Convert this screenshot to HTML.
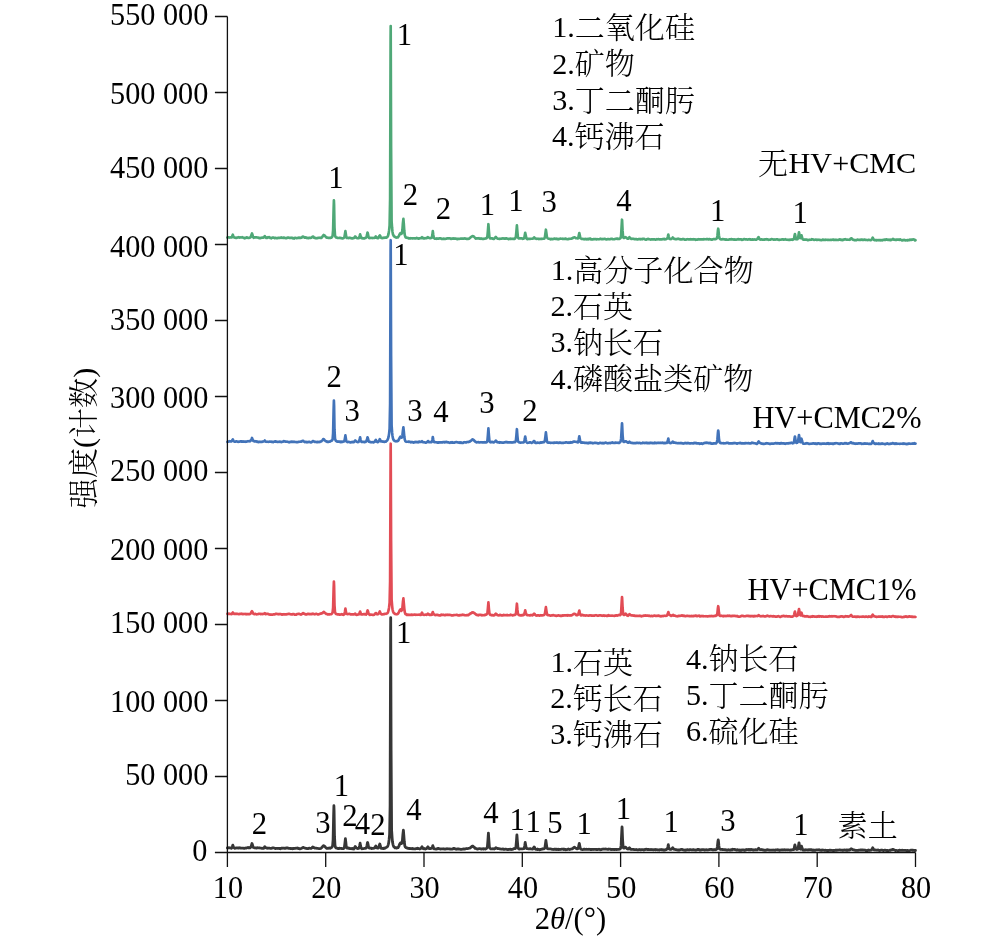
<!DOCTYPE html>
<html lang="zh"><head><meta charset="utf-8"><title>XRD</title>
<style>html,body{margin:0;padding:0;background:#fff}svg{display:block}text{font-family:'Liberation Serif','Noto Serif CJK SC',serif;font-size:30px;fill:#000}.cj{font-weight:300;font-size:30.1px}.la{font-size:30.15px}</style>
</head><body>
<svg width="992" height="938" viewBox="0 0 992 938">
<rect width="992" height="938" fill="#fff"/>
<polyline fill="none" stroke="#363636" stroke-width="2.8" stroke-linejoin="round" stroke-linecap="round" points="227.4,848.0 227.9,848.0 228.4,847.8 228.9,847.7 229.4,847.8 229.9,847.8 230.3,848.0 230.8,848.1 231.3,848.3 231.8,847.9 232.3,846.7 232.8,845.1 233.3,846.5 233.8,847.6 234.3,848.0 234.8,848.3 235.3,848.2 235.8,848.1 236.2,847.8 236.7,847.9 237.2,847.9 237.7,847.9 238.2,848.1 238.7,848.2 239.2,847.7 239.7,847.9 240.2,848.0 240.7,848.0 241.2,848.1 241.7,848.1 242.1,848.2 242.6,848.1 243.1,848.2 243.6,848.2 244.1,848.4 244.6,848.3 245.1,848.1 245.6,848.0 246.1,848.0 246.6,848.0 247.1,847.8 247.6,847.6 248.0,847.4 248.5,847.8 249.0,847.7 249.5,847.7 250.0,847.9 250.5,847.5 251.0,846.9 251.5,845.2 252.0,843.5 252.5,844.9 253.0,846.8 253.4,847.5 253.9,847.6 254.4,847.9 254.9,847.9 255.4,847.8 255.9,848.0 256.4,848.0 256.9,848.0 257.4,847.6 257.9,847.9 258.4,847.8 258.9,847.9 259.3,848.0 259.8,847.9 260.3,848.0 260.8,848.1 261.3,848.1 261.8,848.4 262.3,848.4 262.8,848.2 263.3,848.2 263.8,848.3 264.3,847.4 264.8,846.6 265.2,847.3 265.7,847.6 266.2,847.9 266.7,848.1 267.2,848.1 267.7,848.3 268.2,848.2 268.7,848.2 269.2,848.2 269.7,848.1 270.2,848.4 270.7,848.4 271.1,848.4 271.6,848.2 272.1,848.0 272.6,848.0 273.1,847.8 273.6,847.9 274.1,848.0 274.6,848.2 275.1,848.4 275.6,848.6 276.1,848.5 276.6,848.4 277.0,848.4 277.5,848.5 278.0,848.4 278.5,848.3 279.0,848.5 279.5,848.5 280.0,848.4 280.5,848.7 281.0,848.3 281.5,848.2 282.0,848.3 282.4,848.2 282.9,848.2 283.4,848.1 283.9,848.3 284.4,848.3 284.9,848.2 285.4,848.4 285.9,848.1 286.4,847.8 286.9,848.1 287.4,847.8 287.9,848.1 288.3,848.2 288.8,848.4 289.3,848.3 289.8,848.3 290.3,848.6 290.8,848.3 291.3,848.5 291.8,848.7 292.3,848.5 292.8,848.8 293.3,848.6 293.8,848.4 294.2,848.5 294.7,848.4 295.2,848.3 295.7,848.3 296.2,848.1 296.7,848.1 297.2,848.4 297.7,848.0 298.2,848.2 298.7,848.5 299.2,848.5 299.7,848.9 300.1,848.8 300.6,848.7 301.1,848.5 301.6,848.3 302.1,848.0 302.6,847.8 303.1,847.4 303.6,847.6 304.1,847.9 304.6,848.0 305.1,848.2 305.5,848.2 306.0,848.4 306.5,848.5 307.0,848.5 307.5,848.6 308.0,848.6 308.5,848.4 309.0,848.1 309.5,848.2 310.0,848.3 310.5,848.3 311.0,848.4 311.4,848.2 311.9,847.8 312.4,847.3 312.9,846.9 313.4,847.4 313.9,847.6 314.4,848.0 314.9,848.0 315.4,848.2 315.9,848.1 316.4,848.1 316.9,848.4 317.3,848.4 317.8,848.4 318.3,848.5 318.8,848.6 319.3,848.6 319.8,848.7 320.3,848.5 320.8,848.4 321.3,848.0 321.8,847.5 322.3,847.0 322.8,846.5 323.2,845.8 323.7,845.7 324.2,846.0 324.7,846.2 325.2,846.9 325.7,847.5 326.2,847.9 326.7,848.3 327.2,848.2 327.7,848.4 328.2,848.3 328.6,848.2 329.1,848.0 329.6,848.2 330.1,848.3 330.6,848.0 331.1,847.7 331.6,847.5 332.1,847.1 332.6,845.8 333.1,839.6 333.6,816.4 333.9,805.7 334.1,810.9 334.5,836.4 335.0,845.4 335.5,847.3 336.0,847.9 336.5,848.1 337.0,848.2 337.5,848.3 338.0,848.6 338.5,848.4 339.0,848.5 339.5,848.2 340.0,848.3 340.4,848.3 340.9,848.3 341.4,848.4 341.9,848.6 342.4,848.6 342.9,848.6 343.4,848.6 343.9,848.3 344.4,847.2 344.9,843.1 345.4,838.6 345.9,843.0 346.3,846.8 346.8,848.1 347.3,848.2 347.8,848.0 348.3,848.3 348.8,848.0 349.3,848.2 349.8,848.5 350.3,848.5 350.8,848.6 351.3,848.6 351.7,848.5 352.2,848.8 352.7,848.5 353.2,848.8 353.7,849.0 354.2,848.4 354.7,847.6 355.2,846.5 355.7,847.1 356.2,847.9 356.7,848.0 357.2,848.4 357.6,848.6 358.1,848.4 358.6,848.3 359.1,847.9 359.6,845.8 360.1,843.2 360.6,845.9 361.1,848.1 361.6,848.4 362.1,848.8 362.6,848.6 363.1,848.6 363.5,848.6 364.0,848.5 364.5,848.4 365.0,848.3 365.5,848.3 366.0,848.1 366.5,847.4 367.0,845.3 367.5,842.5 367.6,842.4 368.0,844.1 368.5,846.7 369.0,848.0 369.4,848.1 369.9,848.2 370.4,848.2 370.9,848.0 371.4,848.5 371.9,848.5 372.4,848.3 372.9,848.4 373.4,848.3 373.9,848.1 374.4,848.1 374.9,847.7 375.3,846.8 375.8,846.0 376.3,846.9 376.8,848.0 377.3,848.1 377.8,848.1 378.3,848.1 378.8,847.1 379.3,845.3 379.8,844.0 380.3,845.6 380.7,847.4 381.2,848.3 381.7,848.4 382.2,848.4 382.7,848.5 383.2,848.2 383.7,848.6 384.2,848.5 384.7,848.0 385.2,848.1 385.7,847.5 386.2,847.4 386.6,847.2 387.1,846.9 387.6,846.5 388.1,845.1 388.6,843.4 389.1,839.7 389.6,834.3 390.1,806.0 390.6,631.2 390.7,617.7 391.1,750.8 391.6,830.1 392.1,837.6 392.5,842.1 393.0,844.6 393.5,846.1 394.0,847.0 394.5,847.2 395.0,847.9 395.5,847.7 396.0,847.7 396.5,848.0 397.0,847.7 397.5,847.8 398.0,847.7 398.4,847.0 398.9,846.2 399.4,844.8 399.9,843.7 400.4,842.9 400.9,843.0 401.4,843.6 401.9,843.2 402.4,840.3 402.9,834.3 403.4,830.2 403.8,835.1 404.3,841.8 404.8,845.7 405.3,847.1 405.8,847.4 406.3,847.8 406.8,848.0 407.3,848.0 407.8,848.3 408.3,848.3 408.8,848.5 409.3,848.5 409.7,848.4 410.2,848.6 410.7,848.7 411.2,848.6 411.7,848.7 412.2,848.8 412.7,848.5 413.2,848.6 413.7,848.9 414.2,848.8 414.7,848.9 415.2,848.9 415.6,848.7 416.1,848.7 416.6,848.5 417.1,848.5 417.6,848.2 418.1,848.4 418.6,848.7 419.1,848.6 419.6,849.0 420.1,848.9 420.6,848.6 421.1,848.3 421.5,847.6 422.0,846.8 422.5,847.7 423.0,848.6 423.5,848.5 424.0,848.8 424.5,848.7 425.0,848.7 425.5,849.0 426.0,848.8 426.5,848.6 426.9,848.2 427.4,847.4 427.9,846.8 428.4,847.4 428.9,848.4 429.4,848.6 429.9,848.6 430.4,848.6 430.9,848.4 431.4,848.3 431.9,848.1 432.4,846.8 432.8,845.6 433.3,847.3 433.8,848.4 434.3,848.9 434.8,848.9 435.3,849.0 435.8,849.1 436.3,849.1 436.8,848.8 437.3,848.7 437.8,848.8 438.3,848.5 438.7,848.5 439.2,848.7 439.7,848.8 440.2,848.9 440.7,849.1 441.2,849.0 441.7,848.9 442.2,848.9 442.7,848.8 443.2,849.0 443.7,848.9 444.2,848.8 444.6,849.1 445.1,849.2 445.6,849.0 446.1,849.0 446.6,848.9 447.1,848.6 447.6,848.9 448.1,848.9 448.6,848.8 449.1,848.9 449.6,848.8 450.0,849.1 450.5,849.0 451.0,849.2 451.5,849.1 452.0,849.2 452.5,848.9 453.0,848.8 453.5,848.4 454.0,848.6 454.5,848.5 455.0,848.7 455.5,849.1 455.9,849.1 456.4,849.3 456.9,849.1 457.4,848.9 457.9,849.0 458.4,849.0 458.9,848.9 459.4,849.2 459.9,849.2 460.4,849.3 460.9,849.3 461.4,849.3 461.8,849.3 462.3,849.2 462.8,849.1 463.3,849.1 463.8,848.9 464.3,849.0 464.8,849.1 465.3,848.8 465.8,848.8 466.3,848.6 466.8,848.5 467.3,848.7 467.7,848.6 468.2,848.5 468.7,848.4 469.2,848.1 469.7,848.1 470.2,847.9 470.7,847.4 471.2,847.2 471.7,846.5 472.2,846.2 472.7,846.3 473.1,846.2 473.6,846.9 474.1,847.2 474.6,847.7 475.1,848.4 475.6,848.1 476.1,848.7 476.6,848.8 477.1,848.9 477.6,849.1 478.1,849.0 478.6,848.8 479.0,848.7 479.5,848.7 480.0,848.7 480.5,848.8 481.0,849.0 481.5,849.0 482.0,849.0 482.5,848.9 483.0,849.0 483.5,848.7 484.0,849.0 484.5,848.9 484.9,849.0 485.4,849.1 485.9,848.8 486.4,848.5 486.9,848.1 487.4,846.7 487.9,840.5 488.4,833.2 488.9,840.7 489.4,847.0 489.9,848.3 490.4,848.5 490.8,848.8 491.3,848.9 491.8,848.8 492.3,848.9 492.8,848.6 493.3,848.8 493.8,848.8 494.3,849.0 494.8,848.8 495.3,848.2 495.8,847.7 496.3,847.9 496.7,848.3 497.2,848.5 497.7,848.5 498.2,848.5 498.7,848.6 499.2,848.7 499.7,848.9 500.2,848.9 500.7,849.0 501.2,849.2 501.7,849.1 502.1,849.2 502.6,849.0 503.1,849.0 503.6,849.3 504.1,849.3 504.6,849.3 505.1,849.2 505.6,849.1 506.1,849.2 506.6,849.4 507.1,849.4 507.6,849.5 508.0,849.7 508.5,849.3 509.0,849.4 509.5,849.4 510.0,849.1 510.5,849.3 511.0,849.5 511.5,849.5 512.0,849.4 512.5,849.3 513.0,849.2 513.5,848.8 513.9,848.6 514.4,848.5 514.9,848.5 515.4,848.5 515.9,847.2 516.4,841.5 516.9,834.8 517.4,841.3 517.9,847.1 518.4,848.6 518.9,849.1 519.4,849.0 519.8,849.0 520.3,848.9 520.8,848.8 521.3,848.9 521.8,848.9 522.3,848.8 522.8,848.8 523.3,848.7 523.8,848.7 524.3,847.8 524.8,845.3 525.2,842.4 525.7,845.2 526.2,848.0 526.7,848.6 527.2,848.7 527.7,848.7 528.2,848.8 528.7,848.8 529.2,848.9 529.7,848.8 530.2,848.6 530.7,848.8 531.1,848.9 531.6,849.0 532.1,849.1 532.6,849.1 533.1,848.5 533.6,847.7 534.1,846.9 534.6,847.5 535.1,848.9 535.6,849.2 536.1,849.4 536.6,849.4 537.0,849.5 537.5,849.0 538.0,849.5 538.5,849.4 539.0,849.5 539.5,849.8 540.0,849.7 540.5,849.6 541.0,849.3 541.5,849.3 542.0,849.1 542.5,848.9 542.9,849.0 543.4,848.8 543.9,848.8 544.4,848.7 544.9,847.7 545.4,844.1 545.9,840.5 546.4,844.2 546.9,847.6 547.4,848.7 547.9,848.8 548.3,848.9 548.8,848.9 549.3,848.9 549.8,848.9 550.3,848.8 550.8,849.0 551.3,849.1 551.8,849.2 552.3,849.4 552.8,849.3 553.3,849.3 553.8,849.5 554.2,849.2 554.7,849.3 555.2,849.2 555.7,849.2 556.2,849.5 556.7,849.2 557.2,849.3 557.7,849.5 558.2,849.2 558.7,849.6 559.2,849.4 559.7,849.4 560.1,849.5 560.6,849.3 561.1,849.3 561.6,849.2 562.1,849.2 562.6,849.1 563.1,849.0 563.6,849.5 564.1,849.3 564.6,849.2 565.1,849.6 565.6,849.5 566.0,849.8 566.5,849.6 567.0,849.6 567.5,849.3 568.0,849.2 568.5,849.0 569.0,849.2 569.5,849.5 570.0,849.3 570.5,849.3 571.0,849.1 571.5,849.0 571.9,848.8 572.4,848.9 572.9,848.3 573.4,847.9 573.9,847.5 574.4,847.2 574.9,847.6 575.4,848.0 575.9,848.2 576.4,848.6 576.9,848.9 577.3,848.8 577.8,848.7 578.3,848.3 578.8,845.5 579.3,843.3 579.8,845.9 580.3,848.3 580.8,849.1 581.3,849.3 581.8,849.5 582.3,849.6 582.8,849.6 583.2,849.5 583.7,849.3 584.2,849.1 584.7,849.2 585.2,849.4 585.7,849.4 586.2,849.2 586.7,849.3 587.2,849.3 587.7,849.3 588.2,849.4 588.7,849.3 589.1,849.2 589.6,849.4 590.1,849.5 590.6,849.4 591.1,849.7 591.6,849.4 592.1,849.5 592.6,849.3 593.1,849.4 593.6,849.5 594.1,849.3 594.6,849.4 595.0,849.4 595.5,849.3 596.0,849.5 596.5,849.4 597.0,849.7 597.5,849.5 598.0,849.5 598.5,849.4 599.0,849.2 599.5,849.4 600.0,849.5 600.4,849.8 600.9,849.6 601.4,849.7 601.9,849.3 602.4,849.1 602.9,849.2 603.4,849.0 603.9,849.1 604.4,849.1 604.9,849.0 605.4,849.0 605.9,849.2 606.3,849.1 606.8,849.1 607.3,849.4 607.8,849.3 608.3,849.2 608.8,849.3 609.3,849.1 609.8,849.1 610.3,849.2 610.8,849.4 611.3,849.6 611.8,849.5 612.2,849.3 612.7,849.5 613.2,849.3 613.7,849.4 614.2,849.7 614.7,849.4 615.2,849.4 615.7,849.5 616.2,849.5 616.7,849.5 617.2,849.5 617.7,849.4 618.1,849.3 618.6,849.3 619.1,849.3 619.6,849.2 620.1,849.0 620.6,848.2 621.1,845.4 621.6,834.9 622.0,827.0 622.1,827.3 622.6,839.8 623.1,846.6 623.5,848.0 624.0,848.2 624.5,848.0 625.0,847.3 625.5,847.1 626.0,847.6 626.5,848.0 627.0,848.8 627.5,849.0 628.0,849.1 628.5,848.8 629.0,848.3 629.4,847.8 629.9,848.3 630.4,849.2 630.9,849.4 631.4,849.4 631.9,849.5 632.4,849.4 632.9,849.3 633.4,849.3 633.9,849.6 634.4,849.7 634.9,849.6 635.3,849.7 635.8,849.7 636.3,849.5 636.8,849.7 637.3,849.8 637.8,849.9 638.3,849.8 638.8,849.7 639.3,849.5 639.8,849.6 640.3,849.9 640.8,849.6 641.2,849.8 641.7,849.6 642.2,849.6 642.7,849.6 643.2,849.8 643.7,850.0 644.2,849.9 644.7,849.5 645.2,849.6 645.7,849.3 646.2,849.2 646.6,849.3 647.1,849.5 647.6,849.5 648.1,849.5 648.6,849.5 649.1,849.5 649.6,849.6 650.1,849.5 650.6,849.7 651.1,849.7 651.6,849.5 652.1,849.6 652.5,849.6 653.0,849.8 653.5,849.8 654.0,849.7 654.5,849.6 655.0,849.5 655.5,849.8 656.0,849.8 656.5,849.6 657.0,849.7 657.5,849.8 658.0,849.8 658.4,849.8 658.9,850.0 659.4,850.1 659.9,849.6 660.4,849.7 660.9,849.6 661.4,849.5 661.9,849.9 662.4,849.6 662.9,850.0 663.4,850.1 663.9,849.9 664.3,850.1 664.8,850.1 665.3,849.7 665.8,849.7 666.3,849.6 666.8,849.2 667.3,849.0 667.8,847.1 668.3,844.7 668.8,847.1 669.3,849.1 669.8,849.4 670.2,849.4 670.7,849.5 671.2,849.4 671.7,849.1 672.2,848.5 672.7,847.7 673.2,848.3 673.7,849.0 674.2,849.4 674.7,849.4 675.2,849.4 675.6,849.6 676.1,849.7 676.6,849.7 677.1,849.9 677.6,850.0 678.1,850.0 678.6,850.0 679.1,850.0 679.6,850.0 680.1,849.8 680.6,849.6 681.1,849.5 681.5,849.3 682.0,849.4 682.5,849.7 683.0,849.8 683.5,849.8 684.0,850.1 684.5,850.1 685.0,850.3 685.5,850.0 686.0,850.1 686.5,849.9 687.0,849.7 687.4,849.7 687.9,849.7 688.4,849.9 688.9,850.0 689.4,849.7 689.9,849.7 690.4,849.7 690.9,849.6 691.4,849.9 691.9,849.8 692.4,849.8 692.9,849.7 693.3,849.8 693.8,849.7 694.3,849.9 694.8,850.0 695.3,850.0 695.8,850.2 696.3,849.9 696.8,849.9 697.3,849.5 697.8,849.5 698.3,849.5 698.7,849.3 699.2,849.7 699.7,850.0 700.2,849.9 700.7,850.1 701.2,850.0 701.7,849.7 702.2,849.7 702.7,849.7 703.2,849.7 703.7,849.6 704.2,849.9 704.6,850.1 705.1,849.7 705.6,849.9 706.1,849.8 706.6,849.7 707.1,849.9 707.6,850.0 708.1,849.9 708.6,849.7 709.1,849.7 709.6,849.6 710.1,849.4 710.5,849.3 711.0,849.4 711.5,849.4 712.0,849.6 712.5,849.8 713.0,849.9 713.5,849.6 714.0,849.8 714.5,849.7 715.0,849.6 715.5,849.8 716.0,849.6 716.4,849.4 716.9,849.1 717.4,846.5 717.9,841.6 718.2,840.0 718.4,840.7 718.9,846.0 719.4,848.8 719.9,849.2 720.4,849.3 720.9,849.5 721.4,849.3 721.8,849.5 722.3,849.6 722.8,849.4 723.3,849.7 723.8,849.7 724.3,849.6 724.8,849.8 725.3,849.8 725.8,849.7 726.3,850.0 726.8,850.2 727.3,849.9 727.7,850.1 728.2,850.0 728.7,849.7 729.2,850.0 729.7,850.1 730.2,850.0 730.7,850.1 731.2,849.7 731.7,849.8 732.2,849.8 732.7,849.2 733.2,849.4 733.6,849.3 734.1,849.4 734.6,849.4 735.1,849.6 735.6,849.8 736.1,850.0 736.6,850.0 737.1,849.7 737.6,850.0 738.1,849.9 738.6,850.0 739.1,850.3 739.5,849.9 740.0,850.3 740.5,850.3 741.0,850.1 741.5,850.3 742.0,850.1 742.5,849.8 743.0,849.8 743.5,849.9 744.0,850.2 744.5,850.3 744.9,850.3 745.4,850.0 745.9,849.6 746.4,849.8 746.9,849.5 747.4,849.7 747.9,849.7 748.4,849.4 748.9,849.9 749.4,849.8 749.9,849.5 750.4,849.9 750.8,849.6 751.3,849.4 751.8,849.7 752.3,849.7 752.8,850.0 753.3,850.1 753.8,849.9 754.3,849.9 754.8,849.8 755.3,849.7 755.8,849.7 756.3,849.8 756.7,849.8 757.2,849.9 757.7,849.5 758.2,848.6 758.6,848.3 758.7,848.2 759.2,849.0 759.7,849.4 760.2,849.7 760.7,849.6 761.2,849.5 761.7,849.7 762.2,849.7 762.6,849.8 763.1,849.9 763.6,850.1 764.1,850.1 764.6,850.2 765.1,850.4 765.6,850.1 766.1,850.0 766.6,850.0 767.1,849.7 767.6,849.7 768.0,849.9 768.5,849.8 769.0,850.1 769.5,850.1 770.0,850.2 770.5,850.1 771.0,850.1 771.5,850.1 772.0,850.0 772.5,850.2 773.0,850.1 773.5,850.2 773.9,850.0 774.4,850.1 774.9,850.3 775.4,850.0 775.9,850.0 776.4,849.9 776.9,849.9 777.4,849.6 777.9,850.0 778.4,849.9 778.9,849.9 779.4,850.3 779.8,850.1 780.3,850.2 780.8,850.0 781.3,850.0 781.8,849.9 782.3,850.0 782.8,849.8 783.3,849.9 783.8,850.0 784.3,849.6 784.8,849.9 785.3,849.8 785.7,850.0 786.2,849.9 786.7,849.9 787.2,849.9 787.7,850.0 788.2,849.9 788.7,849.9 789.2,850.0 789.7,850.1 790.2,850.0 790.7,850.1 791.2,849.9 791.6,849.8 792.1,849.8 792.6,849.6 793.1,849.6 793.6,849.6 794.1,848.9 794.6,846.1 794.9,844.9 795.1,845.5 795.6,848.1 796.1,849.1 796.6,849.5 797.0,849.4 797.5,849.4 798.0,848.7 798.5,845.8 799.0,842.8 799.5,845.8 800.0,848.8 800.5,849.2 801.0,847.9 801.5,846.2 802.0,847.7 802.5,849.4 802.9,850.0 803.4,849.9 803.9,850.1 804.4,849.9 804.9,850.0 805.4,850.0 805.9,849.6 806.4,849.9 806.9,849.9 807.4,849.8 807.9,850.1 808.4,849.7 808.8,849.9 809.3,849.7 809.8,849.8 810.3,849.8 810.8,849.6 811.3,850.1 811.8,849.8 812.3,850.2 812.8,850.4 813.3,850.0 813.8,850.4 814.3,850.2 814.7,850.1 815.2,850.3 815.7,850.0 816.2,849.9 816.7,849.9 817.2,849.8 817.7,849.8 818.2,849.9 818.7,849.8 819.2,849.7 819.7,850.2 820.1,850.2 820.6,850.2 821.1,850.4 821.6,850.3 822.1,849.9 822.6,850.0 823.1,850.1 823.6,850.1 824.1,850.3 824.6,850.3 825.1,850.3 825.6,850.2 826.0,850.4 826.5,850.3 827.0,850.6 827.5,850.5 828.0,850.6 828.5,850.4 829.0,850.4 829.5,850.1 830.0,850.3 830.5,850.3 831.0,850.2 831.5,850.4 831.9,850.4 832.4,850.5 832.9,850.6 833.4,850.4 833.9,850.5 834.4,850.5 834.9,850.4 835.4,850.2 835.9,850.3 836.4,850.1 836.9,850.3 837.4,850.2 837.8,850.2 838.3,850.1 838.8,850.0 839.3,849.9 839.8,849.9 840.3,850.1 840.8,850.2 841.3,850.1 841.8,850.2 842.3,850.3 842.8,850.2 843.2,850.3 843.7,850.2 844.2,850.0 844.7,850.0 845.2,850.1 845.7,850.0 846.2,850.4 846.7,850.1 847.2,849.9 847.7,850.3 848.2,850.2 848.7,850.0 849.1,850.1 849.6,849.9 850.1,849.8 850.6,849.2 851.1,848.8 851.2,848.9 851.6,848.9 852.1,849.3 852.6,849.6 853.1,849.8 853.6,849.8 854.1,849.9 854.6,850.0 855.0,850.2 855.5,850.4 856.0,850.3 856.5,850.4 857.0,850.3 857.5,850.4 858.0,850.3 858.5,850.3 859.0,850.1 859.5,850.1 860.0,850.0 860.5,850.0 860.9,850.2 861.4,849.9 861.9,850.1 862.4,850.0 862.9,850.0 863.4,850.2 863.9,850.0 864.4,850.1 864.9,850.0 865.4,850.2 865.9,850.6 866.4,850.6 866.8,850.5 867.3,850.7 867.8,850.2 868.3,850.0 868.8,850.2 869.3,850.3 869.8,850.3 870.3,850.2 870.8,850.2 871.3,850.0 871.8,849.6 872.2,848.9 872.7,847.8 873.2,848.7 873.7,849.6 874.2,850.0 874.7,849.8 875.2,849.9 875.7,850.0 876.2,850.2 876.7,850.1 877.2,850.1 877.7,850.0 878.1,850.0 878.6,850.3 879.1,850.5 879.6,850.5 880.1,850.4 880.6,850.3 881.1,850.1 881.6,850.0 882.1,850.1 882.6,850.3 883.1,850.4 883.6,850.6 884.0,850.4 884.5,850.1 885.0,850.1 885.5,850.3 886.0,850.4 886.5,850.3 887.0,850.8 887.5,850.5 888.0,850.5 888.5,850.6 889.0,850.5 889.5,850.4 889.9,850.1 890.4,850.4 890.9,850.0 891.4,849.8 891.9,849.9 892.4,849.4 892.9,849.3 893.4,849.5 893.9,849.8 894.4,850.0 894.9,850.2 895.3,850.5 895.8,850.5 896.3,850.4 896.8,850.5 897.3,850.6 897.8,850.6 898.3,850.5 898.8,850.6 899.3,850.3 899.8,850.1 900.3,850.4 900.8,850.3 901.2,850.3 901.7,850.3 902.2,850.2 902.7,850.3 903.2,850.3 903.7,850.4 904.2,850.3 904.7,850.3 905.2,850.4 905.7,850.3 906.2,850.5 906.7,850.8 907.1,850.6 907.6,850.4 908.1,850.7 908.6,850.6 909.1,850.7 909.6,850.6 910.1,850.5 910.6,850.3 911.1,850.1 911.6,850.1 912.1,850.3 912.6,850.1 913.0,850.3 913.5,850.3 914.0,850.4 914.5,850.5 915.0,850.5 915.5,850.5"/>
<polyline fill="none" stroke="#e24c55" stroke-width="2.65" stroke-linejoin="round" stroke-linecap="round" points="227.4,613.8 227.9,613.8 228.4,614.0 228.9,613.6 229.4,613.7 229.9,613.9 230.3,614.0 230.8,614.0 231.3,614.1 231.8,614.0 232.3,613.1 232.8,612.5 233.3,613.0 233.8,613.7 234.3,614.0 234.8,613.9 235.3,613.8 235.8,614.0 236.2,613.9 236.7,614.0 237.2,613.8 237.7,614.0 238.2,614.0 238.7,614.1 239.2,614.1 239.7,614.0 240.2,613.7 240.7,613.7 241.2,614.0 241.7,613.7 242.1,613.8 242.6,614.1 243.1,613.9 243.6,614.1 244.1,614.0 244.6,614.0 245.1,613.9 245.6,614.2 246.1,614.3 246.6,614.1 247.1,614.2 247.6,614.0 248.0,614.0 248.5,614.1 249.0,614.2 249.5,614.1 250.0,614.0 250.5,613.8 251.0,613.1 251.5,611.8 252.0,611.2 252.5,611.9 253.0,613.1 253.4,613.8 253.9,613.8 254.4,614.1 254.9,613.8 255.4,613.9 255.9,614.2 256.4,614.3 256.9,614.3 257.4,614.2 257.9,614.2 258.4,613.9 258.9,613.9 259.3,613.8 259.8,613.7 260.3,613.7 260.8,614.1 261.3,613.9 261.8,614.1 262.3,614.1 262.8,614.0 263.3,613.8 263.8,614.0 264.3,613.6 264.8,613.2 265.2,613.6 265.7,614.2 266.2,613.8 266.7,613.9 267.2,613.9 267.7,613.8 268.2,614.0 268.7,614.2 269.2,614.5 269.7,614.5 270.2,614.7 270.7,614.6 271.1,614.6 271.6,614.5 272.1,614.6 272.6,614.6 273.1,614.5 273.6,614.4 274.1,614.3 274.6,614.4 275.1,614.2 275.6,613.9 276.1,613.8 276.6,613.8 277.0,613.9 277.5,614.0 278.0,614.2 278.5,614.3 279.0,614.1 279.5,614.1 280.0,614.2 280.5,614.0 281.0,614.2 281.5,614.3 282.0,614.7 282.4,614.3 282.9,614.5 283.4,614.3 283.9,614.2 284.4,614.4 284.9,614.4 285.4,614.4 285.9,614.3 286.4,614.4 286.9,614.3 287.4,614.0 287.9,614.1 288.3,613.9 288.8,613.9 289.3,613.9 289.8,614.0 290.3,614.2 290.8,614.2 291.3,614.5 291.8,614.4 292.3,614.2 292.8,614.3 293.3,614.1 293.8,614.1 294.2,614.2 294.7,614.6 295.2,614.6 295.7,614.6 296.2,614.7 296.7,614.3 297.2,614.1 297.7,614.0 298.2,613.9 298.7,613.9 299.2,613.9 299.7,614.0 300.1,614.4 300.6,614.3 301.1,614.6 301.6,614.1 302.1,614.0 302.6,613.5 303.1,613.1 303.6,613.5 304.1,613.6 304.6,614.0 305.1,614.2 305.5,614.1 306.0,614.6 306.5,614.4 307.0,614.1 307.5,614.2 308.0,613.9 308.5,613.9 309.0,614.2 309.5,614.1 310.0,614.1 310.5,614.1 311.0,614.2 311.4,614.1 311.9,614.2 312.4,613.9 312.9,613.6 313.4,613.9 313.9,614.1 314.4,614.3 314.9,614.2 315.4,614.1 315.9,613.9 316.4,613.8 316.9,614.0 317.3,614.0 317.8,614.4 318.3,614.4 318.8,614.2 319.3,614.1 319.8,613.9 320.3,613.6 320.8,613.7 321.3,613.5 321.8,613.3 322.3,613.2 322.8,612.7 323.2,612.4 323.7,611.9 324.2,612.0 324.7,612.6 325.2,613.1 325.7,613.5 326.2,613.9 326.7,613.9 327.2,614.2 327.7,614.5 328.2,614.3 328.6,614.4 329.1,614.2 329.6,614.3 330.1,614.3 330.6,614.2 331.1,614.2 331.6,614.0 332.1,613.4 332.6,612.5 333.1,607.7 333.6,589.4 333.9,581.5 334.1,585.5 334.5,605.3 335.0,612.2 335.5,613.3 336.0,613.9 336.5,614.1 337.0,614.3 337.5,614.3 338.0,614.4 338.5,614.3 339.0,614.5 339.5,614.7 340.0,614.6 340.4,614.6 340.9,614.4 341.4,614.2 341.9,614.4 342.4,614.3 342.9,614.7 343.4,614.8 343.9,614.5 344.4,614.1 344.9,611.8 345.4,608.6 345.9,611.4 346.3,613.6 346.8,613.9 347.3,614.1 347.8,614.1 348.3,614.0 348.8,614.0 349.3,613.8 349.8,614.0 350.3,614.2 350.8,614.4 351.3,614.4 351.7,614.3 352.2,614.3 352.7,614.3 353.2,614.4 353.7,614.5 354.2,614.3 354.7,614.0 355.2,613.7 355.7,614.3 356.2,614.8 356.7,614.9 357.2,614.8 357.6,614.7 358.1,614.4 358.6,614.5 359.1,614.2 359.6,613.1 360.1,611.5 360.6,613.0 361.1,614.4 361.6,614.3 362.1,614.3 362.6,614.4 363.1,614.4 363.5,614.2 364.0,614.0 364.5,614.1 365.0,614.5 365.5,614.4 366.0,614.6 366.5,614.0 367.0,612.4 367.5,610.6 367.6,610.4 368.0,611.3 368.5,613.3 369.0,614.3 369.4,614.5 369.9,614.9 370.4,614.8 370.9,614.5 371.4,614.7 371.9,614.7 372.4,614.8 372.9,615.0 373.4,614.9 373.9,614.7 374.4,614.6 374.9,614.1 375.3,613.4 375.8,613.1 376.3,613.3 376.8,614.0 377.3,614.3 377.8,614.2 378.3,613.7 378.8,613.6 379.3,612.4 379.8,611.5 380.3,612.7 380.7,613.7 381.2,614.0 381.7,614.3 382.2,614.3 382.7,614.3 383.2,614.2 383.7,614.3 384.2,614.1 384.7,614.0 385.2,613.7 385.7,613.7 386.2,613.8 386.6,613.5 387.1,613.4 387.6,613.1 388.1,611.9 388.6,610.2 389.1,607.2 389.6,602.7 390.1,581.0 390.6,453.6 390.7,443.7 391.1,540.8 391.6,599.4 392.1,605.6 392.5,609.2 393.0,611.4 393.5,612.6 394.0,613.2 394.5,613.5 395.0,613.9 395.5,614.0 396.0,614.2 396.5,614.3 397.0,614.2 397.5,614.0 398.0,613.7 398.4,613.1 398.9,612.1 399.4,611.0 399.9,610.1 400.4,609.4 400.9,610.1 401.4,610.8 401.9,610.1 402.4,607.8 402.9,602.0 403.4,598.4 403.8,602.8 404.3,608.6 404.8,612.2 405.3,613.9 405.8,614.1 406.3,614.5 406.8,614.9 407.3,614.5 407.8,614.8 408.3,614.9 408.8,614.7 409.3,614.9 409.7,614.8 410.2,614.8 410.7,614.9 411.2,614.6 411.7,614.8 412.2,615.0 412.7,614.9 413.2,614.7 413.7,614.7 414.2,614.6 414.7,614.5 415.2,614.5 415.6,614.8 416.1,614.8 416.6,614.7 417.1,614.8 417.6,614.7 418.1,614.7 418.6,614.7 419.1,614.6 419.6,614.8 420.1,614.9 420.6,615.0 421.1,614.8 421.5,613.7 422.0,612.7 422.5,613.7 423.0,614.5 423.5,614.8 424.0,614.9 424.5,614.7 425.0,614.7 425.5,614.7 426.0,614.5 426.5,614.8 426.9,614.6 427.4,614.3 427.9,613.7 428.4,613.9 428.9,614.5 429.4,614.8 429.9,614.7 430.4,615.0 430.9,615.0 431.4,614.7 431.9,614.7 432.4,613.3 432.8,612.0 433.3,613.4 433.8,614.3 434.3,614.5 434.8,614.9 435.3,614.8 435.8,615.1 436.3,614.9 436.8,614.8 437.3,614.9 437.8,614.8 438.3,615.2 438.7,615.3 439.2,615.4 439.7,615.4 440.2,615.2 440.7,615.3 441.2,614.7 441.7,614.9 442.2,614.9 442.7,614.8 443.2,615.0 443.7,614.9 444.2,615.1 444.6,615.0 445.1,615.2 445.6,615.0 446.1,614.8 446.6,614.8 447.1,614.7 447.6,614.9 448.1,614.8 448.6,615.0 449.1,615.0 449.6,614.8 450.0,615.0 450.5,615.0 451.0,615.0 451.5,615.4 452.0,615.4 452.5,615.5 453.0,615.4 453.5,615.3 454.0,615.0 454.5,615.0 455.0,615.0 455.5,615.0 455.9,615.0 456.4,614.9 456.9,614.9 457.4,615.0 457.9,615.2 458.4,615.5 458.9,615.4 459.4,615.2 459.9,615.3 460.4,615.1 460.9,615.0 461.4,615.1 461.8,614.9 462.3,614.9 462.8,614.7 463.3,614.8 463.8,614.8 464.3,615.1 464.8,615.2 465.3,615.2 465.8,615.3 466.3,615.2 466.8,615.3 467.3,615.1 467.7,615.2 468.2,615.2 468.7,614.7 469.2,614.5 469.7,614.1 470.2,613.5 470.7,613.3 471.2,613.4 471.7,612.8 472.2,612.4 472.7,612.7 473.1,612.4 473.6,612.7 474.1,613.1 474.6,613.3 475.1,613.8 475.6,614.2 476.1,614.5 476.6,615.0 477.1,614.9 477.6,615.2 478.1,615.3 478.6,615.0 479.0,614.9 479.5,614.9 480.0,615.0 480.5,614.9 481.0,614.9 481.5,615.3 482.0,615.1 482.5,615.3 483.0,615.2 483.5,615.2 484.0,615.1 484.5,614.9 484.9,615.1 485.4,614.8 485.9,614.6 486.4,614.6 486.9,614.0 487.4,613.3 487.9,608.2 488.4,602.4 488.9,608.6 489.4,613.2 489.9,614.5 490.4,614.9 490.8,614.8 491.3,615.1 491.8,615.3 492.3,615.1 492.8,615.3 493.3,615.3 493.8,615.4 494.3,615.3 494.8,614.7 495.3,614.2 495.8,613.7 496.3,613.9 496.7,614.4 497.2,615.1 497.7,615.2 498.2,615.3 498.7,615.4 499.2,615.2 499.7,615.0 500.2,614.8 500.7,615.1 501.2,615.2 501.7,615.5 502.1,615.5 502.6,615.4 503.1,615.2 503.6,614.9 504.1,615.2 504.6,615.2 505.1,615.1 505.6,615.2 506.1,615.2 506.6,615.1 507.1,615.3 507.6,615.1 508.0,615.2 508.5,615.2 509.0,615.3 509.5,615.2 510.0,615.2 510.5,614.7 511.0,615.0 511.5,615.0 512.0,615.1 512.5,615.4 513.0,615.2 513.5,615.2 513.9,615.0 514.4,614.9 514.9,614.9 515.4,614.6 515.9,614.0 516.4,609.4 516.9,603.7 517.4,609.4 517.9,613.7 518.4,614.6 518.9,615.0 519.4,615.2 519.8,615.0 520.3,615.4 520.8,615.5 521.3,615.2 521.8,615.4 522.3,615.2 522.8,614.9 523.3,615.1 523.8,614.8 524.3,614.2 524.8,612.4 525.2,610.3 525.7,612.4 526.2,614.2 526.7,614.8 527.2,615.1 527.7,615.1 528.2,615.2 528.7,615.2 529.2,615.3 529.7,615.3 530.2,615.3 530.7,615.0 531.1,615.1 531.6,615.0 532.1,615.0 532.6,615.4 533.1,614.9 533.6,614.2 534.1,613.7 534.6,613.9 535.1,614.9 535.6,615.2 536.1,615.4 536.6,615.6 537.0,615.3 537.5,615.3 538.0,615.3 538.5,615.4 539.0,615.5 539.5,615.6 540.0,615.3 540.5,615.4 541.0,615.2 541.5,615.3 542.0,615.3 542.5,615.4 542.9,615.2 543.4,615.2 543.9,615.0 544.4,614.6 544.9,613.7 545.4,610.5 545.9,607.1 546.4,610.6 546.9,613.6 547.4,615.0 547.9,615.1 548.3,615.1 548.8,615.2 549.3,615.2 549.8,615.4 550.3,615.6 550.8,615.6 551.3,615.5 551.8,615.4 552.3,615.2 552.8,615.3 553.3,615.2 553.8,615.1 554.2,615.5 554.7,615.5 555.2,615.6 555.7,615.8 556.2,615.9 556.7,615.7 557.2,615.5 557.7,615.7 558.2,615.4 558.7,615.4 559.2,615.6 559.7,615.5 560.1,615.7 560.6,616.0 561.1,615.7 561.6,615.9 562.1,615.5 562.6,615.4 563.1,615.6 563.6,615.3 564.1,615.3 564.6,615.3 565.1,615.4 565.6,615.2 566.0,615.2 566.5,615.4 567.0,615.2 567.5,615.6 568.0,615.1 568.5,615.4 569.0,615.5 569.5,615.4 570.0,615.6 570.5,615.4 571.0,615.3 571.5,615.4 571.9,615.1 572.4,614.7 572.9,614.7 573.4,614.1 573.9,613.7 574.4,613.7 574.9,614.0 575.4,614.0 575.9,614.7 576.4,615.1 576.9,615.2 577.3,615.1 577.8,615.0 578.3,614.4 578.8,612.3 579.3,610.6 579.8,612.9 580.3,614.4 580.8,615.4 581.3,615.4 581.8,615.1 582.3,615.2 582.8,614.9 583.2,615.3 583.7,615.5 584.2,615.5 584.7,615.4 585.2,615.6 585.7,615.5 586.2,615.4 586.7,615.5 587.2,615.5 587.7,615.5 588.2,615.6 588.7,615.5 589.1,615.6 589.6,615.4 590.1,615.3 590.6,615.5 591.1,615.5 591.6,615.7 592.1,615.5 592.6,615.6 593.1,615.6 593.6,615.5 594.1,615.6 594.6,615.6 595.0,615.4 595.5,615.3 596.0,615.2 596.5,615.3 597.0,615.5 597.5,615.7 598.0,615.8 598.5,615.7 599.0,615.4 599.5,615.4 600.0,615.2 600.4,615.2 600.9,615.5 601.4,615.5 601.9,615.7 602.4,615.8 602.9,615.6 603.4,615.4 603.9,615.7 604.4,615.8 604.9,615.5 605.4,615.7 605.9,615.7 606.3,615.9 606.8,615.7 607.3,615.8 607.8,615.8 608.3,615.1 608.8,615.5 609.3,615.6 609.8,615.5 610.3,615.7 610.8,615.7 611.3,615.7 611.8,615.6 612.2,615.6 612.7,615.7 613.2,615.8 613.7,615.7 614.2,615.7 614.7,615.9 615.2,615.4 615.7,615.6 616.2,615.3 616.7,615.3 617.2,615.6 617.7,615.5 618.1,615.1 618.6,615.1 619.1,614.9 619.6,615.1 620.1,615.1 620.6,614.7 621.1,612.5 621.6,603.5 622.0,597.0 622.1,597.6 622.6,607.7 623.1,613.9 623.5,614.7 624.0,614.9 624.5,614.9 625.0,613.9 625.5,613.7 626.0,614.0 626.5,614.7 627.0,615.3 627.5,615.6 628.0,615.8 628.5,615.4 629.0,614.5 629.4,614.2 629.9,614.5 630.4,614.9 630.9,615.2 631.4,615.4 631.9,615.3 632.4,615.4 632.9,615.6 633.4,615.6 633.9,615.4 634.4,615.8 634.9,615.9 635.3,616.0 635.8,615.9 636.3,615.9 636.8,615.9 637.3,615.9 637.8,616.0 638.3,616.0 638.8,615.9 639.3,615.7 639.8,615.8 640.3,615.9 640.8,615.9 641.2,616.3 641.7,616.0 642.2,616.1 642.7,615.9 643.2,615.9 643.7,615.6 644.2,615.5 644.7,615.6 645.2,615.3 645.7,615.7 646.2,615.6 646.6,615.6 647.1,615.7 647.6,615.6 648.1,615.6 648.6,615.7 649.1,616.0 649.6,615.9 650.1,616.0 650.6,616.1 651.1,615.9 651.6,615.9 652.1,616.2 652.5,616.1 653.0,615.9 653.5,615.9 654.0,615.8 654.5,615.6 655.0,615.8 655.5,615.9 656.0,615.9 656.5,616.0 657.0,615.9 657.5,615.7 658.0,615.7 658.4,615.5 658.9,615.8 659.4,615.8 659.9,616.1 660.4,616.1 660.9,616.4 661.4,616.1 661.9,616.1 662.4,616.1 662.9,615.9 663.4,616.1 663.9,615.9 664.3,615.8 664.8,615.7 665.3,615.8 665.8,615.9 666.3,615.8 666.8,615.7 667.3,615.1 667.8,613.8 668.3,612.0 668.8,613.5 669.3,614.7 669.8,615.0 670.2,615.2 670.7,615.5 671.2,615.9 671.7,615.8 672.2,615.4 672.7,615.1 673.2,614.9 673.7,615.6 674.2,615.7 674.7,615.6 675.2,615.7 675.6,615.9 676.1,616.1 676.6,616.2 677.1,616.2 677.6,616.3 678.1,616.0 678.6,615.9 679.1,615.8 679.6,615.8 680.1,615.9 680.6,615.8 681.1,615.7 681.5,615.5 682.0,615.4 682.5,615.5 683.0,615.8 683.5,615.7 684.0,616.0 684.5,615.9 685.0,616.2 685.5,616.0 686.0,616.1 686.5,615.9 687.0,615.9 687.4,615.9 687.9,615.9 688.4,616.0 688.9,616.0 689.4,616.2 689.9,616.1 690.4,616.1 690.9,616.1 691.4,615.9 691.9,616.2 692.4,616.0 692.9,616.2 693.3,615.9 693.8,616.1 694.3,615.7 694.8,615.7 695.3,615.8 695.8,615.6 696.3,615.8 696.8,616.1 697.3,616.1 697.8,615.8 698.3,615.8 698.7,615.7 699.2,615.6 699.7,616.3 700.2,616.3 700.7,616.0 701.2,616.2 701.7,616.1 702.2,616.0 702.7,616.2 703.2,616.1 703.7,616.3 704.2,616.2 704.6,616.2 705.1,616.3 705.6,616.2 706.1,616.3 706.6,616.2 707.1,616.3 707.6,616.5 708.1,616.2 708.6,616.2 709.1,616.1 709.6,616.0 710.1,616.1 710.5,616.2 711.0,616.1 711.5,615.9 712.0,616.1 712.5,616.2 713.0,616.1 713.5,616.2 714.0,616.1 714.5,615.9 715.0,615.9 715.5,616.0 716.0,615.7 716.4,615.4 716.9,615.2 717.4,613.1 717.9,608.1 718.2,606.2 718.4,607.1 718.9,612.3 719.4,615.3 719.9,615.8 720.4,615.8 720.9,615.8 721.4,615.7 721.8,615.9 722.3,616.0 722.8,616.1 723.3,616.3 723.8,615.9 724.3,615.9 724.8,616.1 725.3,616.1 725.8,615.9 726.3,616.1 726.8,615.9 727.3,615.7 727.7,615.9 728.2,615.7 728.7,615.8 729.2,615.7 729.7,615.9 730.2,615.9 730.7,616.2 731.2,616.0 731.7,616.2 732.2,616.0 732.7,615.8 733.2,616.0 733.6,615.8 734.1,615.9 734.6,615.8 735.1,615.9 735.6,616.1 736.1,616.1 736.6,616.1 737.1,616.3 737.6,616.1 738.1,616.5 738.6,616.7 739.1,616.7 739.5,616.7 740.0,616.5 740.5,616.4 741.0,616.3 741.5,615.9 742.0,615.8 742.5,615.8 743.0,615.9 743.5,616.1 744.0,616.3 744.5,616.2 744.9,616.2 745.4,616.2 745.9,616.0 746.4,616.0 746.9,615.8 747.4,615.9 747.9,616.0 748.4,615.9 748.9,616.2 749.4,616.1 749.9,616.0 750.4,616.3 750.8,616.2 751.3,616.0 751.8,616.2 752.3,616.1 752.8,616.0 753.3,616.3 753.8,616.3 754.3,616.1 754.8,616.3 755.3,616.1 755.8,616.0 756.3,616.0 756.7,616.0 757.2,616.1 757.7,616.0 758.2,615.6 758.6,615.1 758.7,615.1 759.2,615.7 759.7,615.9 760.2,616.2 760.7,616.3 761.2,616.3 761.7,616.2 762.2,616.0 762.6,616.1 763.1,615.9 763.6,616.2 764.1,616.3 764.6,616.5 765.1,616.4 765.6,616.4 766.1,616.3 766.6,616.1 767.1,615.7 767.6,615.9 768.0,615.9 768.5,616.2 769.0,616.3 769.5,616.4 770.0,616.1 770.5,616.2 771.0,616.1 771.5,616.2 772.0,616.3 772.5,616.3 773.0,616.3 773.5,616.1 773.9,616.5 774.4,616.4 774.9,616.4 775.4,616.7 775.9,616.5 776.4,616.5 776.9,616.6 777.4,616.2 777.9,616.2 778.4,616.1 778.9,616.4 779.4,616.7 779.8,616.7 780.3,617.0 780.8,616.7 781.3,616.4 781.8,616.2 782.3,616.0 782.8,616.1 783.3,615.8 783.8,616.0 784.3,616.1 784.8,616.0 785.3,616.4 785.7,616.2 786.2,616.1 786.7,616.3 787.2,616.4 787.7,616.4 788.2,616.4 788.7,616.4 789.2,616.3 789.7,616.4 790.2,616.5 790.7,616.6 791.2,616.6 791.6,616.7 792.1,616.7 792.6,616.5 793.1,616.3 793.6,615.9 794.1,615.1 794.6,612.6 794.9,611.5 795.1,612.2 795.6,614.8 796.1,616.0 796.6,616.1 797.0,615.9 797.5,615.8 798.0,614.7 798.5,611.5 799.0,609.0 799.5,611.8 800.0,614.6 800.5,615.4 801.0,614.2 801.5,612.7 802.0,614.3 802.5,616.0 802.9,615.9 803.4,615.9 803.9,616.2 804.4,616.0 804.9,616.5 805.4,616.4 805.9,616.4 806.4,616.4 806.9,616.1 807.4,616.5 807.9,616.4 808.4,616.7 808.8,616.8 809.3,616.7 809.8,616.8 810.3,617.0 810.8,616.6 811.3,616.6 811.8,616.7 812.3,616.2 812.8,616.6 813.3,616.3 813.8,616.4 814.3,616.5 814.7,616.6 815.2,616.7 815.7,616.6 816.2,616.7 816.7,616.8 817.2,616.4 817.7,616.7 818.2,616.5 818.7,616.1 819.2,616.6 819.7,616.2 820.1,616.3 820.6,616.4 821.1,616.4 821.6,616.7 822.1,616.4 822.6,616.5 823.1,616.6 823.6,616.6 824.1,616.7 824.6,616.7 825.1,616.7 825.6,616.5 826.0,616.7 826.5,616.5 827.0,616.7 827.5,616.7 828.0,616.6 828.5,616.3 829.0,616.5 829.5,616.1 830.0,616.4 830.5,616.3 831.0,616.4 831.5,616.4 831.9,616.2 832.4,616.5 832.9,616.3 833.4,616.2 833.9,616.3 834.4,616.2 834.9,616.3 835.4,616.5 835.9,616.4 836.4,616.5 836.9,616.7 837.4,616.9 837.8,616.8 838.3,616.8 838.8,616.9 839.3,616.7 839.8,616.8 840.3,616.7 840.8,616.4 841.3,616.4 841.8,616.4 842.3,616.4 842.8,616.7 843.2,616.9 843.7,616.7 844.2,616.8 844.7,616.6 845.2,616.5 845.7,616.2 846.2,616.4 846.7,616.3 847.2,616.5 847.7,616.3 848.2,616.6 848.7,616.5 849.1,616.4 849.6,616.3 850.1,616.1 850.6,615.4 851.1,615.0 851.2,615.3 851.6,615.5 852.1,616.2 852.6,616.6 853.1,616.7 853.6,616.7 854.1,616.6 854.6,616.6 855.0,616.6 855.5,616.8 856.0,617.0 856.5,616.7 857.0,617.0 857.5,616.6 858.0,616.5 858.5,616.7 859.0,616.7 859.5,616.9 860.0,616.8 860.5,616.7 860.9,616.7 861.4,616.7 861.9,616.8 862.4,616.6 862.9,616.6 863.4,616.5 863.9,616.7 864.4,616.8 864.9,616.9 865.4,616.6 865.9,616.6 866.4,616.5 866.8,616.6 867.3,616.7 867.8,617.0 868.3,617.0 868.8,616.4 869.3,616.6 869.8,616.5 870.3,616.8 870.8,617.0 871.3,617.0 871.8,616.6 872.2,615.5 872.7,614.6 873.2,615.3 873.7,616.2 874.2,616.3 874.7,616.4 875.2,616.6 875.7,616.6 876.2,616.8 876.7,616.8 877.2,616.8 877.7,616.7 878.1,616.7 878.6,616.5 879.1,616.5 879.6,616.6 880.1,616.6 880.6,616.7 881.1,616.6 881.6,616.6 882.1,616.4 882.6,616.8 883.1,616.8 883.6,617.0 884.0,616.9 884.5,616.9 885.0,616.8 885.5,616.5 886.0,616.6 886.5,616.8 887.0,616.8 887.5,616.9 888.0,616.6 888.5,616.5 889.0,616.4 889.5,616.4 889.9,616.7 890.4,616.6 890.9,616.7 891.4,616.8 891.9,616.4 892.4,616.1 892.9,616.1 893.4,616.0 893.9,616.4 894.4,616.7 894.9,616.5 895.3,616.8 895.8,616.5 896.3,616.6 896.8,616.9 897.3,616.9 897.8,616.6 898.3,616.8 898.8,616.7 899.3,616.7 899.8,616.7 900.3,616.8 900.8,616.9 901.2,616.9 901.7,617.2 902.2,617.2 902.7,617.2 903.2,617.0 903.7,616.9 904.2,617.0 904.7,616.8 905.2,616.6 905.7,616.7 906.2,616.4 906.7,616.6 907.1,616.9 907.6,616.8 908.1,616.8 908.6,616.6 909.1,616.7 909.6,616.4 910.1,616.5 910.6,616.6 911.1,616.5 911.6,616.7 912.1,616.9 912.6,616.7 913.0,616.8 913.5,616.8 914.0,616.9 914.5,617.0 915.0,616.9 915.5,617.0"/>
<polyline fill="none" stroke="#4273b9" stroke-width="2.65" stroke-linejoin="round" stroke-linecap="round" points="227.4,441.9 227.9,441.8 228.4,441.6 228.9,441.5 229.4,441.2 229.9,441.3 230.3,441.4 230.8,441.4 231.3,441.5 231.8,441.2 232.3,440.2 232.8,439.4 233.3,440.5 233.8,441.1 234.3,441.6 234.8,441.7 235.3,441.7 235.8,441.5 236.2,441.3 236.7,441.3 237.2,441.6 237.7,441.8 238.2,441.9 238.7,441.8 239.2,441.6 239.7,441.6 240.2,441.4 240.7,441.4 241.2,441.7 241.7,441.6 242.1,441.4 242.6,441.6 243.1,441.3 243.6,441.6 244.1,441.5 244.6,441.7 245.1,441.8 245.6,441.6 246.1,441.6 246.6,441.6 247.1,441.3 247.6,441.3 248.0,441.2 248.5,441.3 249.0,441.2 249.5,441.0 250.0,441.3 250.5,440.8 251.0,440.3 251.5,439.3 252.0,437.9 252.5,439.2 253.0,440.7 253.4,441.0 253.9,441.1 254.4,441.4 254.9,441.1 255.4,441.4 255.9,441.5 256.4,441.4 256.9,441.8 257.4,441.6 257.9,441.5 258.4,442.1 258.9,442.0 259.3,441.9 259.8,442.0 260.3,441.8 260.8,441.9 261.3,441.8 261.8,441.8 262.3,441.8 262.8,441.6 263.3,441.5 263.8,441.4 264.3,441.1 264.8,440.5 265.2,441.1 265.7,441.7 266.2,441.8 266.7,441.7 267.2,441.8 267.7,441.7 268.2,441.8 268.7,441.8 269.2,441.7 269.7,441.6 270.2,441.7 270.7,441.7 271.1,441.6 271.6,441.9 272.1,442.0 272.6,441.9 273.1,442.2 273.6,441.8 274.1,441.7 274.6,441.6 275.1,441.3 275.6,441.4 276.1,441.8 276.6,441.7 277.0,441.8 277.5,441.8 278.0,441.9 278.5,441.7 279.0,441.7 279.5,441.8 280.0,441.6 280.5,442.0 281.0,441.8 281.5,442.1 282.0,441.9 282.4,441.7 282.9,441.7 283.4,441.2 283.9,441.1 284.4,441.4 284.9,441.3 285.4,441.6 285.9,441.7 286.4,441.7 286.9,441.6 287.4,441.7 287.9,441.7 288.3,442.1 288.8,442.1 289.3,442.3 289.8,442.2 290.3,441.9 290.8,442.0 291.3,441.6 291.8,441.7 292.3,442.0 292.8,441.7 293.3,441.9 293.8,441.9 294.2,442.0 294.7,441.9 295.2,442.0 295.7,442.0 296.2,442.1 296.7,442.0 297.2,442.0 297.7,442.1 298.2,442.0 298.7,441.8 299.2,441.8 299.7,441.7 300.1,441.7 300.6,441.5 301.1,441.7 301.6,441.5 302.1,441.1 302.6,440.9 303.1,440.8 303.6,441.3 304.1,441.6 304.6,442.1 305.1,441.9 305.5,441.9 306.0,442.2 306.5,442.1 307.0,442.3 307.5,442.1 308.0,442.1 308.5,442.0 309.0,441.8 309.5,441.9 310.0,442.2 310.5,442.2 311.0,442.4 311.4,442.3 311.9,441.8 312.4,441.5 312.9,441.0 313.4,441.2 313.9,441.4 314.4,441.7 314.9,441.9 315.4,441.9 315.9,441.9 316.4,442.0 316.9,442.2 317.3,442.0 317.8,441.8 318.3,442.1 318.8,441.9 319.3,441.9 319.8,442.1 320.3,441.6 320.8,441.5 321.3,441.4 321.8,440.7 322.3,440.5 322.8,439.9 323.2,439.1 323.7,439.1 324.2,439.8 324.7,440.3 325.2,440.7 325.7,441.1 326.2,441.2 326.7,441.5 327.2,441.8 327.7,441.7 328.2,441.9 328.6,441.9 329.1,441.8 329.6,441.5 330.1,441.6 330.6,441.1 331.1,440.9 331.6,440.8 332.1,440.3 332.6,439.5 333.1,433.1 333.6,410.6 333.9,400.5 334.1,405.6 334.5,429.9 335.0,438.7 335.5,440.2 336.0,440.9 336.5,441.1 337.0,441.7 337.5,441.7 338.0,441.6 338.5,441.7 339.0,441.5 339.5,441.8 340.0,442.0 340.4,441.7 340.9,442.2 341.4,441.7 341.9,441.6 342.4,441.9 342.9,441.7 343.4,441.5 343.9,441.5 344.4,441.1 344.9,438.4 345.4,435.4 345.9,438.6 346.3,441.1 346.8,441.7 347.3,442.0 347.8,442.1 348.3,441.9 348.8,441.9 349.3,442.1 349.8,442.1 350.3,442.4 350.8,442.4 351.3,442.1 351.7,442.2 352.2,442.2 352.7,441.9 353.2,442.2 353.7,442.1 354.2,441.7 354.7,441.1 355.2,440.5 355.7,440.9 356.2,441.4 356.7,441.8 357.2,441.9 357.6,442.1 358.1,442.1 358.6,441.9 359.1,441.4 359.6,439.7 360.1,437.3 360.6,439.8 361.1,441.5 361.6,441.9 362.1,442.0 362.6,441.9 363.1,442.0 363.5,441.9 364.0,442.1 364.5,442.1 365.0,441.7 365.5,442.0 366.0,441.5 366.5,441.1 367.0,439.5 367.5,437.3 367.6,437.4 368.0,438.6 368.5,440.9 369.0,441.7 369.4,441.7 369.9,441.9 370.4,442.2 370.9,442.1 371.4,442.2 371.9,442.3 372.4,442.2 372.9,442.1 373.4,442.4 373.9,442.1 374.4,442.0 374.9,441.6 375.3,440.6 375.8,439.9 376.3,441.0 376.8,441.6 377.3,442.0 377.8,442.2 378.3,441.9 378.8,441.1 379.3,440.3 379.8,439.1 380.3,440.1 380.7,441.3 381.2,441.5 381.7,441.5 382.2,441.4 382.7,441.7 383.2,441.5 383.7,441.8 384.2,441.9 384.7,441.7 385.2,441.5 385.7,441.7 386.2,441.2 386.6,440.9 387.1,440.5 387.6,439.8 388.1,438.6 388.6,436.7 389.1,433.6 389.6,428.6 390.1,403.5 390.6,251.7 390.7,240.2 391.1,355.8 391.6,425.2 392.1,432.4 392.5,435.9 393.0,438.4 393.5,439.7 394.0,440.4 394.5,440.8 395.0,441.1 395.5,441.3 396.0,441.2 396.5,441.3 397.0,441.1 397.5,441.2 398.0,440.9 398.4,440.4 398.9,439.5 399.4,438.4 399.9,437.5 400.4,436.7 400.9,437.1 401.4,437.7 401.9,437.5 402.4,435.5 402.9,430.7 403.4,427.3 403.8,431.2 404.3,436.5 404.8,439.7 405.3,441.2 405.8,441.5 406.3,441.7 406.8,441.8 407.3,441.7 407.8,441.7 408.3,441.8 408.8,441.5 409.3,441.7 409.7,441.8 410.2,442.1 410.7,442.3 411.2,442.0 411.7,442.2 412.2,442.1 412.7,442.3 413.2,442.3 413.7,442.6 414.2,442.3 414.7,442.0 415.2,442.1 415.6,441.9 416.1,442.2 416.6,442.1 417.1,442.2 417.6,442.3 418.1,441.9 418.6,442.3 419.1,441.8 419.6,441.6 420.1,441.9 420.6,441.9 421.1,442.0 421.5,441.7 422.0,441.2 422.5,441.8 423.0,442.2 423.5,442.3 424.0,442.2 424.5,442.3 425.0,442.5 425.5,442.6 426.0,442.6 426.5,442.5 426.9,442.1 427.4,441.6 427.9,441.0 428.4,441.3 428.9,442.1 429.4,442.2 429.9,442.1 430.4,442.2 430.9,442.1 431.4,442.1 431.9,441.7 432.4,439.7 432.8,437.0 433.3,439.8 433.8,441.8 434.3,442.1 434.8,442.0 435.3,442.2 435.8,442.2 436.3,442.2 436.8,442.3 437.3,442.6 437.8,442.4 438.3,442.7 438.7,442.7 439.2,442.4 439.7,442.3 440.2,442.3 440.7,442.4 441.2,442.5 441.7,442.4 442.2,442.5 442.7,442.2 443.2,442.0 443.7,442.1 444.2,442.3 444.6,442.1 445.1,442.3 445.6,442.2 446.1,441.9 446.6,442.2 447.1,442.1 447.6,442.2 448.1,442.4 448.6,442.4 449.1,442.6 449.6,442.7 450.0,442.9 450.5,442.4 451.0,442.4 451.5,442.6 452.0,442.2 452.5,442.5 453.0,442.7 453.5,442.5 454.0,442.7 454.5,442.7 455.0,442.4 455.5,442.3 455.9,442.0 456.4,442.0 456.9,442.2 457.4,442.2 457.9,442.4 458.4,442.5 458.9,442.6 459.4,442.4 459.9,442.9 460.4,442.5 460.9,442.4 461.4,442.8 461.8,442.9 462.3,442.9 462.8,442.9 463.3,442.7 463.8,442.3 464.3,442.2 464.8,442.3 465.3,442.3 465.8,442.3 466.3,442.5 466.8,442.0 467.3,442.0 467.7,442.0 468.2,441.9 468.7,442.1 469.2,441.6 469.7,441.7 470.2,441.3 470.7,440.8 471.2,440.7 471.7,440.0 472.2,439.5 472.7,439.4 473.1,439.6 473.6,440.0 474.1,440.5 474.6,441.0 475.1,441.5 475.6,441.9 476.1,442.0 476.6,442.3 477.1,442.3 477.6,442.2 478.1,442.1 478.6,442.3 479.0,442.4 479.5,442.5 480.0,442.4 480.5,442.3 481.0,442.2 481.5,442.3 482.0,442.4 482.5,442.3 483.0,442.4 483.5,442.3 484.0,442.3 484.5,442.4 484.9,442.2 485.4,442.4 485.9,442.5 486.4,442.2 486.9,442.1 487.4,440.8 487.9,435.1 488.4,428.3 488.9,435.1 489.4,440.7 489.9,441.9 490.4,442.3 490.8,442.2 491.3,441.9 491.8,442.1 492.3,441.8 492.8,442.1 493.3,442.2 493.8,442.4 494.3,442.1 494.8,441.6 495.3,441.3 495.8,440.7 496.3,441.0 496.7,441.7 497.2,442.1 497.7,442.1 498.2,442.5 498.7,442.4 499.2,442.1 499.7,442.7 500.2,442.3 500.7,442.4 501.2,442.4 501.7,442.6 502.1,442.6 502.6,442.6 503.1,442.5 503.6,442.7 504.1,442.4 504.6,442.5 505.1,442.3 505.6,442.1 506.1,441.9 506.6,442.1 507.1,442.4 507.6,442.2 508.0,442.5 508.5,442.4 509.0,442.4 509.5,442.5 510.0,442.4 510.5,442.5 511.0,442.4 511.5,442.4 512.0,442.6 512.5,442.4 513.0,442.5 513.5,442.1 513.9,442.1 514.4,442.1 514.9,442.1 515.4,441.7 515.9,440.5 516.4,435.5 516.9,429.2 517.4,435.8 517.9,440.7 518.4,441.9 518.9,442.2 519.4,442.5 519.8,442.5 520.3,442.6 520.8,442.6 521.3,442.5 521.8,442.5 522.3,442.5 522.8,442.5 523.3,442.4 523.8,442.2 524.3,441.5 524.8,439.1 525.2,436.5 525.7,439.3 526.2,441.6 526.7,442.4 527.2,442.9 527.7,442.8 528.2,442.7 528.7,442.7 529.2,442.5 529.7,442.3 530.2,442.4 530.7,442.4 531.1,442.6 531.6,442.9 532.1,442.5 532.6,442.4 533.1,442.0 533.6,441.3 534.1,441.0 534.6,441.5 535.1,442.6 535.6,443.0 536.1,442.8 536.6,443.0 537.0,442.8 537.5,442.5 538.0,442.7 538.5,442.7 539.0,442.7 539.5,442.9 540.0,442.7 540.5,442.3 541.0,442.7 541.5,442.5 542.0,442.3 542.5,442.5 542.9,442.3 543.4,442.1 543.9,442.1 544.4,441.7 544.9,440.5 545.4,436.6 545.9,432.4 546.4,436.7 546.9,441.0 547.4,442.4 547.9,442.6 548.3,442.7 548.8,442.5 549.3,442.5 549.8,442.6 550.3,442.7 550.8,442.9 551.3,442.8 551.8,442.7 552.3,442.7 552.8,442.8 553.3,442.7 553.8,443.0 554.2,442.6 554.7,442.6 555.2,442.7 555.7,442.7 556.2,442.5 556.7,442.7 557.2,442.6 557.7,442.6 558.2,443.0 558.7,442.7 559.2,442.6 559.7,442.8 560.1,442.5 560.6,442.8 561.1,442.9 561.6,442.8 562.1,442.8 562.6,442.8 563.1,443.0 563.6,442.9 564.1,442.8 564.6,442.7 565.1,442.6 565.6,442.3 566.0,442.4 566.5,442.4 567.0,442.5 567.5,442.6 568.0,442.7 568.5,442.6 569.0,442.8 569.5,442.6 570.0,442.7 570.5,442.2 571.0,442.7 571.5,442.4 571.9,442.3 572.4,442.3 572.9,442.0 573.4,441.7 573.9,441.5 574.4,441.5 574.9,441.7 575.4,441.7 575.9,441.8 576.4,442.0 576.9,442.0 577.3,442.3 577.8,442.4 578.3,441.7 578.8,439.2 579.3,436.3 579.8,439.1 580.3,441.7 580.8,442.2 581.3,442.7 581.8,442.5 582.3,442.3 582.8,442.6 583.2,442.6 583.7,442.6 584.2,442.6 584.7,442.9 585.2,442.8 585.7,442.9 586.2,442.8 586.7,442.9 587.2,443.2 587.7,443.1 588.2,443.3 588.7,443.2 589.1,442.6 589.6,442.9 590.1,442.8 590.6,442.5 591.1,442.9 591.6,442.9 592.1,442.9 592.6,443.3 593.1,443.2 593.6,443.1 594.1,442.9 594.6,442.9 595.0,442.8 595.5,442.9 596.0,442.9 596.5,443.0 597.0,443.0 597.5,443.3 598.0,443.5 598.5,443.4 599.0,443.2 599.5,443.0 600.0,442.8 600.4,442.8 600.9,443.0 601.4,443.1 601.9,443.0 602.4,443.1 602.9,443.3 603.4,443.1 603.9,443.3 604.4,443.2 604.9,442.9 605.4,442.8 605.9,442.6 606.3,442.8 606.8,443.0 607.3,443.2 607.8,443.3 608.3,443.2 608.8,443.0 609.3,443.1 609.8,442.9 610.3,443.1 610.8,442.7 611.3,442.7 611.8,442.8 612.2,442.3 612.7,442.7 613.2,442.8 613.7,442.9 614.2,442.8 614.7,442.8 615.2,442.8 615.7,442.5 616.2,442.7 616.7,442.8 617.2,442.7 617.7,442.8 618.1,442.8 618.6,443.0 619.1,443.0 619.6,442.5 620.1,442.2 620.6,441.5 621.1,438.7 621.6,430.0 622.0,423.3 622.1,423.9 622.6,435.0 623.1,440.6 623.5,441.7 624.0,441.9 624.5,441.9 625.0,441.4 625.5,441.2 626.0,441.2 626.5,441.7 627.0,442.1 627.5,442.3 628.0,442.7 628.5,442.6 629.0,442.1 629.4,441.7 629.9,442.3 630.4,442.6 630.9,442.8 631.4,442.8 631.9,442.8 632.4,443.0 632.9,443.1 633.4,443.1 633.9,443.1 634.4,443.1 634.9,443.0 635.3,443.1 635.8,443.2 636.3,442.8 636.8,442.9 637.3,442.9 637.8,442.9 638.3,443.1 638.8,442.9 639.3,442.9 639.8,443.0 640.3,443.1 640.8,443.3 641.2,443.2 641.7,443.2 642.2,443.1 642.7,442.6 643.2,442.9 643.7,442.8 644.2,442.9 644.7,443.1 645.2,442.8 645.7,442.9 646.2,442.8 646.6,442.7 647.1,443.1 647.6,442.9 648.1,443.2 648.6,443.1 649.1,443.2 649.6,443.2 650.1,442.7 650.6,442.9 651.1,442.8 651.6,442.8 652.1,443.1 652.5,443.2 653.0,443.0 653.5,443.2 654.0,443.2 654.5,442.6 655.0,443.1 655.5,443.0 656.0,442.8 656.5,443.1 657.0,442.9 657.5,442.9 658.0,442.9 658.4,442.9 658.9,442.9 659.4,442.7 659.9,442.7 660.4,442.9 660.9,443.0 661.4,442.8 661.9,443.0 662.4,443.0 662.9,442.6 663.4,443.1 663.9,443.1 664.3,442.9 664.8,443.2 665.3,443.2 665.8,442.9 666.3,443.0 666.8,442.9 667.3,442.5 667.8,441.0 668.3,438.6 668.8,440.8 669.3,442.6 669.8,443.0 670.2,442.9 670.7,443.2 671.2,442.9 671.7,442.6 672.2,442.2 672.7,441.6 673.2,441.9 673.7,442.7 674.2,442.7 674.7,442.6 675.2,442.8 675.6,442.9 676.1,442.9 676.6,443.0 677.1,443.1 677.6,443.2 678.1,443.2 678.6,443.1 679.1,443.2 679.6,443.2 680.1,443.0 680.6,443.1 681.1,443.2 681.5,443.0 682.0,443.2 682.5,443.5 683.0,443.4 683.5,443.6 684.0,443.4 684.5,443.1 685.0,443.0 685.5,443.2 686.0,443.0 686.5,443.3 687.0,443.2 687.4,443.1 687.9,443.3 688.4,443.1 688.9,443.3 689.4,443.4 689.9,443.4 690.4,443.4 690.9,443.4 691.4,443.3 691.9,443.2 692.4,443.3 692.9,443.3 693.3,443.1 693.8,443.3 694.3,443.2 694.8,442.8 695.3,443.1 695.8,442.9 696.3,443.0 696.8,443.4 697.3,443.4 697.8,443.3 698.3,443.5 698.7,443.3 699.2,443.5 699.7,443.8 700.2,443.6 700.7,443.6 701.2,443.7 701.7,443.4 702.2,443.9 702.7,443.7 703.2,443.5 703.7,443.3 704.2,443.1 704.6,443.0 705.1,442.8 705.6,442.9 706.1,443.0 706.6,442.7 707.1,442.9 707.6,442.9 708.1,442.8 708.6,443.1 709.1,443.1 709.6,442.9 710.1,443.3 710.5,443.1 711.0,443.3 711.5,443.7 712.0,443.5 712.5,443.7 713.0,443.7 713.5,443.4 714.0,443.3 714.5,443.5 715.0,443.3 715.5,443.3 716.0,443.4 716.4,442.8 716.9,442.3 717.4,439.4 717.9,432.9 718.2,430.5 718.4,431.3 718.9,438.1 719.4,441.6 719.9,442.5 720.4,443.0 720.9,443.1 721.4,443.0 721.8,443.1 722.3,443.2 722.8,443.2 723.3,443.1 723.8,443.4 724.3,443.2 724.8,443.2 725.3,443.3 725.8,443.2 726.3,443.0 726.8,442.8 727.3,443.0 727.7,442.8 728.2,443.0 728.7,443.3 729.2,443.3 729.7,443.4 730.2,443.5 730.7,443.2 731.2,443.2 731.7,443.4 732.2,443.2 732.7,443.3 733.2,443.4 733.6,443.0 734.1,443.2 734.6,443.0 735.1,443.0 735.6,443.2 736.1,443.3 736.6,443.5 737.1,443.7 737.6,443.3 738.1,443.2 738.6,443.2 739.1,443.1 739.5,443.1 740.0,443.2 740.5,442.9 741.0,443.2 741.5,443.5 742.0,443.4 742.5,443.4 743.0,443.2 743.5,443.3 744.0,443.4 744.5,443.2 744.9,443.5 745.4,443.3 745.9,443.0 746.4,443.2 746.9,443.2 747.4,443.2 747.9,443.3 748.4,443.0 748.9,443.2 749.4,443.2 749.9,443.5 750.4,443.5 750.8,443.3 751.3,443.2 751.8,442.7 752.3,442.9 752.8,442.9 753.3,443.0 753.8,443.1 754.3,443.2 754.8,443.3 755.3,443.4 755.8,443.6 756.3,443.8 756.7,443.9 757.2,443.7 757.7,443.1 758.2,442.0 758.6,441.6 758.7,441.4 759.2,442.1 759.7,442.7 760.2,443.0 760.7,443.2 761.2,443.5 761.7,443.6 762.2,443.8 762.6,443.7 763.1,443.8 763.6,444.0 764.1,443.9 764.6,443.8 765.1,443.7 765.6,443.5 766.1,443.3 766.6,443.2 767.1,443.4 767.6,443.4 768.0,443.4 768.5,443.6 769.0,443.8 769.5,443.9 770.0,443.7 770.5,443.9 771.0,443.8 771.5,443.5 772.0,443.6 772.5,443.6 773.0,443.5 773.5,443.5 773.9,443.6 774.4,443.4 774.9,443.2 775.4,443.1 775.9,443.3 776.4,443.2 776.9,443.4 777.4,443.5 777.9,443.1 778.4,443.4 778.9,443.4 779.4,443.4 779.8,443.7 780.3,443.2 780.8,443.4 781.3,443.1 781.8,443.3 782.3,443.5 782.8,443.5 783.3,443.3 783.8,443.5 784.3,443.6 784.8,443.4 785.3,443.8 785.7,443.6 786.2,443.5 786.7,443.4 787.2,443.3 787.7,443.3 788.2,443.2 788.7,443.4 789.2,443.3 789.7,443.0 790.2,443.1 790.7,442.8 791.2,442.8 791.6,443.0 792.1,442.9 792.6,443.3 793.1,443.0 793.6,443.0 794.1,441.7 794.6,438.0 794.9,436.6 795.1,437.1 795.6,441.0 796.1,442.6 796.6,442.9 797.0,442.8 797.5,442.5 798.0,441.5 798.5,438.2 799.0,435.0 799.5,438.3 800.0,441.8 800.5,442.2 801.0,440.4 801.5,438.7 802.0,440.7 802.5,442.5 802.9,443.2 803.4,443.7 803.9,443.7 804.4,443.7 804.9,443.7 805.4,443.5 805.9,443.4 806.4,443.4 806.9,443.1 807.4,443.4 807.9,443.4 808.4,443.6 808.8,443.8 809.3,443.8 809.8,443.8 810.3,443.7 810.8,443.8 811.3,443.7 811.8,443.6 812.3,443.4 812.8,443.6 813.3,443.4 813.8,443.3 814.3,443.6 814.7,443.5 815.2,443.4 815.7,443.9 816.2,443.6 816.7,443.8 817.2,443.8 817.7,443.5 818.2,443.3 818.7,443.4 819.2,443.5 819.7,443.6 820.1,443.9 820.6,443.9 821.1,443.7 821.6,443.9 822.1,443.6 822.6,443.6 823.1,443.6 823.6,443.6 824.1,443.7 824.6,443.5 825.1,443.7 825.6,443.8 826.0,443.7 826.5,443.8 827.0,443.4 827.5,443.7 828.0,443.2 828.5,443.5 829.0,443.9 829.5,443.5 830.0,443.7 830.5,443.6 831.0,443.5 831.5,443.5 831.9,443.6 832.4,443.8 832.9,443.8 833.4,443.5 833.9,443.9 834.4,443.4 834.9,443.5 835.4,443.4 835.9,443.1 836.4,443.2 836.9,443.2 837.4,443.2 837.8,443.5 838.3,443.6 838.8,443.6 839.3,444.0 839.8,443.7 840.3,443.8 840.8,443.4 841.3,443.4 841.8,443.5 842.3,443.5 842.8,443.7 843.2,443.7 843.7,443.6 844.2,443.5 844.7,443.3 845.2,443.1 845.7,443.4 846.2,443.2 846.7,443.4 847.2,443.7 847.7,443.5 848.2,443.6 848.7,443.4 849.1,443.2 849.6,443.1 850.1,442.8 850.6,442.4 851.1,442.4 851.2,442.4 851.6,442.7 852.1,443.2 852.6,443.0 853.1,443.3 853.6,443.2 854.1,443.5 854.6,443.5 855.0,443.7 855.5,443.8 856.0,443.6 856.5,443.5 857.0,443.7 857.5,443.5 858.0,443.6 858.5,443.4 859.0,443.4 859.5,443.2 860.0,443.2 860.5,443.5 860.9,443.4 861.4,443.7 861.9,443.9 862.4,443.8 862.9,443.7 863.4,443.8 863.9,443.6 864.4,443.3 864.9,443.6 865.4,443.7 865.9,443.5 866.4,443.6 866.8,443.6 867.3,443.5 867.8,443.7 868.3,443.8 868.8,443.8 869.3,443.7 869.8,443.9 870.3,443.8 870.8,443.9 871.3,443.7 871.8,443.3 872.2,442.2 872.7,441.0 873.2,442.1 873.7,443.1 874.2,443.3 874.7,443.8 875.2,443.9 875.7,443.5 876.2,443.8 876.7,443.6 877.2,443.7 877.7,443.8 878.1,443.6 878.6,443.8 879.1,443.6 879.6,444.0 880.1,443.7 880.6,443.8 881.1,443.8 881.6,443.6 882.1,443.8 882.6,443.6 883.1,443.7 883.6,443.8 884.0,443.9 884.5,444.1 885.0,444.1 885.5,444.1 886.0,443.7 886.5,443.5 887.0,443.6 887.5,443.3 888.0,443.7 888.5,443.9 889.0,444.1 889.5,443.9 889.9,443.9 890.4,443.7 890.9,443.5 891.4,443.5 891.9,443.6 892.4,443.1 892.9,443.1 893.4,443.5 893.9,443.5 894.4,443.8 894.9,443.9 895.3,443.4 895.8,443.6 896.3,443.8 896.8,443.6 897.3,443.7 897.8,443.8 898.3,443.7 898.8,443.7 899.3,443.8 899.8,443.8 900.3,443.7 900.8,443.8 901.2,443.7 901.7,443.7 902.2,443.8 902.7,443.6 903.2,443.6 903.7,443.8 904.2,443.6 904.7,443.6 905.2,443.9 905.7,443.9 906.2,443.9 906.7,444.2 907.1,444.0 907.6,443.8 908.1,443.8 908.6,443.5 909.1,443.5 909.6,443.6 910.1,443.7 910.6,443.8 911.1,443.7 911.6,443.7 912.1,443.6 912.6,443.6 913.0,443.4 913.5,443.6 914.0,443.5 914.5,443.2 915.0,443.7 915.5,443.6"/>
<polyline fill="none" stroke="#4fa877" stroke-width="2.65" stroke-linejoin="round" stroke-linecap="round" points="227.4,237.6 227.9,237.4 228.4,237.4 228.9,237.4 229.4,237.6 229.9,237.4 230.3,237.5 230.8,237.5 231.3,237.3 231.8,237.4 232.3,236.0 232.8,234.7 233.3,236.0 233.8,237.2 234.3,237.5 234.8,237.6 235.3,237.8 235.8,237.9 236.2,238.0 236.7,237.9 237.2,237.6 237.7,237.5 238.2,237.4 238.7,237.2 239.2,237.3 239.7,237.6 240.2,237.4 240.7,237.5 241.2,237.5 241.7,237.5 242.1,237.1 242.6,237.4 243.1,237.6 243.6,237.7 244.1,238.1 244.6,238.3 245.1,238.1 245.6,238.0 246.1,237.7 246.6,237.3 247.1,237.5 247.6,237.8 248.0,237.9 248.5,238.0 249.0,237.9 249.5,237.8 250.0,237.6 250.5,237.4 251.0,236.5 251.5,234.7 252.0,233.4 252.5,234.9 253.0,237.0 253.4,237.5 253.9,237.8 254.4,237.4 254.9,237.3 255.4,237.4 255.9,237.5 256.4,237.3 256.9,237.5 257.4,237.5 257.9,237.6 258.4,237.9 258.9,237.7 259.3,238.1 259.8,238.1 260.3,238.1 260.8,238.0 261.3,237.7 261.8,237.7 262.3,237.5 262.8,237.6 263.3,237.6 263.8,237.5 264.3,236.8 264.8,236.1 265.2,236.8 265.7,237.5 266.2,237.9 266.7,237.7 267.2,237.8 267.7,237.5 268.2,237.2 268.7,237.3 269.2,237.2 269.7,237.5 270.2,237.9 270.7,238.0 271.1,238.3 271.6,238.0 272.1,237.8 272.6,237.6 273.1,237.7 273.6,237.6 274.1,237.7 274.6,238.1 275.1,237.8 275.6,237.8 276.1,238.1 276.6,238.0 277.0,238.0 277.5,238.2 278.0,237.8 278.5,237.8 279.0,237.8 279.5,237.8 280.0,237.9 280.5,237.8 281.0,237.6 281.5,237.8 282.0,237.6 282.4,237.8 282.9,237.9 283.4,237.6 283.9,237.8 284.4,237.7 284.9,237.9 285.4,238.1 285.9,238.1 286.4,238.2 286.9,238.0 287.4,237.8 287.9,237.6 288.3,237.6 288.8,237.8 289.3,237.9 289.8,237.9 290.3,237.9 290.8,237.8 291.3,237.9 291.8,238.0 292.3,237.8 292.8,238.3 293.3,238.3 293.8,238.2 294.2,238.5 294.7,237.9 295.2,237.9 295.7,237.9 296.2,238.1 296.7,238.1 297.2,238.1 297.7,237.9 298.2,237.9 298.7,237.6 299.2,237.9 299.7,237.6 300.1,237.9 300.6,238.0 301.1,237.6 301.6,237.6 302.1,237.2 302.6,236.5 303.1,236.5 303.6,236.9 304.1,237.4 304.6,237.7 305.1,237.4 305.5,237.5 306.0,237.7 306.5,237.5 307.0,238.1 307.5,238.0 308.0,237.9 308.5,238.2 309.0,237.9 309.5,237.9 310.0,238.0 310.5,237.8 311.0,237.9 311.4,237.7 311.9,237.3 312.4,236.9 312.9,236.5 313.4,236.7 313.9,237.6 314.4,237.7 314.9,237.9 315.4,238.2 315.9,238.1 316.4,238.2 316.9,238.3 317.3,238.1 317.8,237.9 318.3,237.9 318.8,237.8 319.3,237.7 319.8,237.8 320.3,238.0 320.8,237.8 321.3,237.9 321.8,237.5 322.3,236.8 322.8,236.3 323.2,235.5 323.7,235.0 324.2,235.4 324.7,235.6 325.2,236.4 325.7,236.7 326.2,237.3 326.7,237.6 327.2,237.6 327.7,237.8 328.2,237.9 328.6,237.9 329.1,237.9 329.6,237.9 330.1,237.8 330.6,237.8 331.1,237.5 331.6,237.6 332.1,236.9 332.6,235.9 333.1,230.0 333.6,209.7 333.9,200.3 334.1,204.9 334.5,227.6 335.0,235.4 335.5,236.8 336.0,237.4 336.5,237.6 337.0,237.6 337.5,238.0 338.0,238.0 338.5,238.0 339.0,238.0 339.5,237.8 340.0,237.9 340.4,237.8 340.9,238.1 341.4,238.1 341.9,238.2 342.4,238.5 342.9,238.3 343.4,238.2 343.9,237.8 344.4,237.3 344.9,234.2 345.4,231.1 345.9,234.5 346.3,237.1 346.8,238.0 347.3,237.8 347.8,237.9 348.3,238.1 348.8,237.8 349.3,238.0 349.8,237.9 350.3,237.8 350.8,238.1 351.3,238.2 351.7,238.4 352.2,238.5 352.7,238.2 353.2,238.1 353.7,238.1 354.2,237.8 354.7,237.3 355.2,236.5 355.7,236.9 356.2,237.7 356.7,237.9 357.2,238.2 357.6,238.2 358.1,238.2 358.6,238.2 359.1,237.7 359.6,236.2 360.1,234.4 360.6,236.0 361.1,237.8 361.6,238.1 362.1,237.9 362.6,238.4 363.1,238.3 363.5,238.4 364.0,238.3 364.5,238.3 365.0,238.0 365.5,238.0 366.0,237.7 366.5,237.1 367.0,235.2 367.5,232.6 367.6,232.7 368.0,234.2 368.5,236.8 369.0,237.9 369.4,238.0 369.9,238.1 370.4,237.9 370.9,238.0 371.4,238.0 371.9,237.9 372.4,238.1 372.9,237.9 373.4,238.0 373.9,238.0 374.4,237.9 374.9,237.8 375.3,237.0 375.8,236.4 376.3,237.0 376.8,237.9 377.3,238.0 377.8,238.2 378.3,238.2 378.8,237.3 379.3,236.1 379.8,235.4 380.3,236.0 380.7,237.3 381.2,237.9 381.7,237.8 382.2,238.1 382.7,237.8 383.2,238.0 383.7,237.8 384.2,237.7 384.7,237.8 385.2,237.6 385.7,237.7 386.2,237.5 386.6,237.6 387.1,237.0 387.6,236.6 388.1,235.6 388.6,233.6 389.1,230.4 389.6,225.3 390.1,198.9 390.6,38.5 390.7,26.1 391.1,147.9 391.6,221.1 392.1,228.0 392.5,231.9 393.0,234.5 393.5,235.3 394.0,236.3 394.5,236.5 395.0,236.9 395.5,237.4 396.0,237.3 396.5,237.6 397.0,237.4 397.5,237.2 398.0,237.3 398.4,236.5 398.9,235.9 399.4,235.0 399.9,233.7 400.4,233.2 400.9,233.6 401.4,233.8 401.9,233.2 402.4,230.0 402.9,223.2 403.4,218.8 403.8,223.5 404.3,231.0 404.8,235.2 405.3,236.7 405.8,237.5 406.3,237.6 406.8,237.8 407.3,237.9 407.8,237.9 408.3,238.0 408.8,238.4 409.3,238.3 409.7,238.3 410.2,238.4 410.7,238.2 411.2,238.3 411.7,238.2 412.2,238.2 412.7,238.5 413.2,238.2 413.7,238.2 414.2,238.3 414.7,238.4 415.2,238.4 415.6,238.4 416.1,238.5 416.6,237.9 417.1,238.3 417.6,238.4 418.1,238.4 418.6,238.7 419.1,238.5 419.6,238.2 420.1,238.2 420.6,238.2 421.1,238.2 421.5,237.6 422.0,237.1 422.5,237.7 423.0,238.3 423.5,238.4 424.0,238.1 424.5,238.4 425.0,238.2 425.5,238.2 426.0,238.1 426.5,238.2 426.9,238.0 427.4,237.4 427.9,237.1 428.4,237.6 428.9,237.9 429.4,238.0 429.9,238.1 430.4,238.1 430.9,238.0 431.4,237.9 431.9,237.3 432.4,234.8 432.8,231.1 433.3,235.0 433.8,237.8 434.3,238.3 434.8,238.7 435.3,238.7 435.8,238.6 436.3,238.8 436.8,238.6 437.3,238.7 437.8,238.5 438.3,238.5 438.7,238.7 439.2,238.4 439.7,238.3 440.2,238.5 440.7,238.4 441.2,238.6 441.7,239.0 442.2,238.8 442.7,238.9 443.2,238.7 443.7,238.6 444.2,238.9 444.6,238.9 445.1,238.9 445.6,238.7 446.1,238.7 446.6,238.6 447.1,238.3 447.6,238.5 448.1,238.3 448.6,238.3 449.1,238.4 449.6,238.3 450.0,238.4 450.5,238.6 451.0,238.9 451.5,238.7 452.0,238.5 452.5,238.6 453.0,238.3 453.5,238.6 454.0,238.7 454.5,238.5 455.0,238.7 455.5,238.5 455.9,238.8 456.4,238.9 456.9,238.7 457.4,239.1 457.9,238.8 458.4,238.8 458.9,239.0 459.4,238.7 459.9,238.7 460.4,238.7 460.9,238.5 461.4,238.5 461.8,238.6 462.3,238.6 462.8,238.5 463.3,238.6 463.8,238.6 464.3,238.4 464.8,238.5 465.3,238.7 465.8,238.6 466.3,238.7 466.8,238.9 467.3,238.8 467.7,238.8 468.2,238.9 468.7,238.8 469.2,238.7 469.7,238.1 470.2,237.7 470.7,237.2 471.2,236.9 471.7,236.6 472.2,236.2 472.7,236.1 473.1,236.2 473.6,236.3 474.1,236.9 474.6,237.4 475.1,237.9 475.6,238.6 476.1,238.6 476.6,238.4 477.1,238.5 477.6,238.3 478.1,238.3 478.6,238.4 479.0,238.2 479.5,238.6 480.0,238.5 480.5,238.6 481.0,238.8 481.5,238.6 482.0,238.8 482.5,238.9 483.0,238.9 483.5,238.9 484.0,238.7 484.5,238.7 484.9,238.6 485.4,238.5 485.9,238.4 486.4,238.2 486.9,237.7 487.4,236.4 487.9,230.9 488.4,224.2 488.9,231.0 489.4,236.9 489.9,238.3 490.4,238.5 490.8,238.4 491.3,238.4 491.8,238.4 492.3,238.4 492.8,238.8 493.3,238.9 493.8,239.0 494.3,238.6 494.8,237.9 495.3,237.4 495.8,236.9 496.3,237.5 496.7,238.1 497.2,238.4 497.7,238.7 498.2,238.7 498.7,238.8 499.2,238.9 499.7,238.7 500.2,238.8 500.7,238.7 501.2,238.6 501.7,238.6 502.1,238.5 502.6,238.4 503.1,238.6 503.6,238.4 504.1,238.5 504.6,238.7 505.1,238.3 505.6,238.6 506.1,238.4 506.6,238.3 507.1,238.7 507.6,238.7 508.0,238.8 508.5,239.1 509.0,238.8 509.5,238.8 510.0,238.8 510.5,238.6 511.0,239.0 511.5,238.8 512.0,238.7 512.5,238.8 513.0,239.0 513.5,238.9 513.9,239.0 514.4,239.0 514.9,238.5 515.4,238.0 515.9,236.7 516.4,231.5 516.9,225.4 517.4,231.9 517.9,237.1 518.4,238.3 518.9,238.2 519.4,238.4 519.8,238.3 520.3,238.3 520.8,238.5 521.3,238.4 521.8,238.4 522.3,238.5 522.8,238.8 523.3,238.6 523.8,238.6 524.3,237.9 524.8,235.1 525.2,232.8 525.7,235.0 526.2,237.6 526.7,238.8 527.2,238.5 527.7,239.1 528.2,238.9 528.7,238.8 529.2,238.9 529.7,238.8 530.2,238.9 530.7,238.8 531.1,238.7 531.6,238.7 532.1,238.7 532.6,238.7 533.1,238.5 533.6,237.9 534.1,237.4 534.6,237.8 535.1,238.4 535.6,238.6 536.1,238.8 536.6,238.8 537.0,238.7 537.5,238.8 538.0,238.7 538.5,238.8 539.0,239.1 539.5,238.9 540.0,239.0 540.5,239.0 541.0,238.8 541.5,239.0 542.0,238.9 542.5,238.8 542.9,238.7 543.4,238.7 543.9,238.7 544.4,238.5 544.9,237.1 545.4,233.5 545.9,229.7 546.4,233.1 546.9,236.9 547.4,238.1 547.9,238.4 548.3,238.6 548.8,238.7 549.3,238.7 549.8,238.9 550.3,239.0 550.8,239.3 551.3,239.2 551.8,238.9 552.3,239.1 552.8,239.1 553.3,238.8 553.8,238.8 554.2,238.8 554.7,238.6 555.2,238.7 555.7,238.9 556.2,238.6 556.7,238.9 557.2,239.2 557.7,238.9 558.2,239.3 558.7,239.2 559.2,238.8 559.7,238.8 560.1,238.7 560.6,238.6 561.1,238.7 561.6,238.7 562.1,238.8 562.6,238.7 563.1,239.0 563.6,239.0 564.1,238.9 564.6,238.8 565.1,238.8 565.6,238.6 566.0,238.7 566.5,238.9 567.0,239.2 567.5,239.2 568.0,239.2 568.5,239.0 569.0,238.8 569.5,238.8 570.0,238.7 570.5,238.7 571.0,238.8 571.5,238.7 571.9,238.3 572.4,238.2 572.9,238.0 573.4,237.5 573.9,237.5 574.4,237.4 574.9,237.5 575.4,237.7 575.9,238.1 576.4,238.2 576.9,238.2 577.3,238.2 577.8,238.4 578.3,237.7 578.8,235.4 579.3,233.0 579.8,235.2 580.3,238.1 580.8,238.4 581.3,238.7 581.8,238.9 582.3,238.9 582.8,239.0 583.2,239.0 583.7,239.2 584.2,239.1 584.7,239.3 585.2,239.2 585.7,238.9 586.2,239.3 586.7,239.0 587.2,239.1 587.7,239.3 588.2,239.1 588.7,239.3 589.1,238.7 589.6,239.0 590.1,238.6 590.6,238.8 591.1,239.5 591.6,239.4 592.1,239.5 592.6,239.5 593.1,239.2 593.6,239.1 594.1,239.0 594.6,239.2 595.0,239.2 595.5,239.1 596.0,239.3 596.5,239.4 597.0,239.1 597.5,239.2 598.0,239.2 598.5,239.3 599.0,239.2 599.5,239.1 600.0,239.1 600.4,238.7 600.9,238.8 601.4,239.1 601.9,239.0 602.4,239.2 602.9,239.1 603.4,239.1 603.9,238.9 604.4,238.9 604.9,238.8 605.4,239.1 605.9,239.2 606.3,239.5 606.8,239.4 607.3,239.3 607.8,239.1 608.3,239.0 608.8,239.1 609.3,239.2 609.8,239.3 610.3,239.2 610.8,238.9 611.3,238.9 611.8,238.8 612.2,238.8 612.7,239.2 613.2,239.2 613.7,239.2 614.2,239.2 614.7,239.2 615.2,238.9 615.7,238.8 616.2,238.7 616.7,238.8 617.2,238.6 617.7,238.8 618.1,239.0 618.6,238.8 619.1,239.0 619.6,238.8 620.1,238.4 620.6,238.0 621.1,235.3 621.6,226.3 622.0,219.7 622.1,220.2 622.6,230.9 623.1,236.7 623.5,237.8 624.0,237.8 624.5,237.8 625.0,237.6 625.5,237.1 626.0,237.6 626.5,237.8 627.0,238.2 627.5,238.6 628.0,238.7 628.5,238.6 629.0,237.9 629.4,237.2 629.9,237.8 630.4,238.4 630.9,238.7 631.4,238.9 631.9,238.7 632.4,238.8 632.9,238.7 633.4,238.8 633.9,239.0 634.4,239.1 634.9,239.1 635.3,239.1 635.8,239.2 636.3,239.1 636.8,239.3 637.3,239.5 637.8,239.4 638.3,239.3 638.8,239.1 639.3,239.2 639.8,239.0 640.3,239.0 640.8,239.3 641.2,239.1 641.7,239.2 642.2,239.3 642.7,238.9 643.2,238.8 643.7,238.9 644.2,238.9 644.7,239.2 645.2,239.4 645.7,239.7 646.2,239.7 646.6,239.4 647.1,239.3 647.6,239.0 648.1,238.9 648.6,239.0 649.1,239.2 649.6,239.3 650.1,239.4 650.6,239.6 651.1,239.5 651.6,239.4 652.1,239.4 652.5,239.2 653.0,239.2 653.5,239.4 654.0,239.4 654.5,239.3 655.0,239.5 655.5,239.6 656.0,239.5 656.5,239.5 657.0,239.2 657.5,239.3 658.0,239.2 658.4,239.1 658.9,239.2 659.4,239.4 659.9,239.3 660.4,239.5 660.9,239.5 661.4,239.3 661.9,239.4 662.4,239.3 662.9,239.1 663.4,239.1 663.9,238.8 664.3,239.0 664.8,239.3 665.3,239.3 665.8,239.2 666.3,239.0 666.8,238.8 667.3,238.4 667.8,236.8 668.3,234.5 668.8,236.8 669.3,238.6 669.8,239.0 670.2,238.9 670.7,239.1 671.2,239.0 671.7,238.6 672.2,238.1 672.7,237.5 673.2,237.9 673.7,238.6 674.2,238.9 674.7,238.9 675.2,239.1 675.6,239.2 676.1,239.1 676.6,239.1 677.1,239.0 677.6,238.8 678.1,238.7 678.6,238.9 679.1,239.0 679.6,239.0 680.1,239.3 680.6,239.3 681.1,239.4 681.5,239.4 682.0,239.4 682.5,239.1 683.0,239.2 683.5,239.0 684.0,239.0 684.5,239.6 685.0,239.5 685.5,239.5 686.0,239.6 686.5,239.3 687.0,239.4 687.4,239.2 687.9,239.3 688.4,239.4 688.9,239.4 689.4,239.3 689.9,239.5 690.4,239.2 690.9,239.4 691.4,239.3 691.9,239.3 692.4,239.4 692.9,239.3 693.3,239.2 693.8,239.4 694.3,239.5 694.8,239.3 695.3,239.5 695.8,239.8 696.3,239.6 696.8,239.6 697.3,239.6 697.8,239.5 698.3,239.2 698.7,239.3 699.2,239.4 699.7,239.3 700.2,239.4 700.7,239.5 701.2,239.4 701.7,239.5 702.2,239.4 702.7,239.3 703.2,239.4 703.7,239.1 704.2,239.3 704.6,239.2 705.1,239.2 705.6,239.2 706.1,239.3 706.6,239.1 707.1,239.1 707.6,239.1 708.1,239.3 708.6,239.3 709.1,239.3 709.6,239.1 710.1,239.2 710.5,239.5 711.0,239.3 711.5,239.6 712.0,239.6 712.5,239.2 713.0,239.2 713.5,239.1 714.0,239.0 714.5,239.1 715.0,239.1 715.5,239.1 716.0,239.0 716.4,238.7 716.9,238.3 717.4,235.9 717.9,230.5 718.2,228.7 718.4,229.7 718.9,235.2 719.4,238.1 719.9,238.9 720.4,239.1 720.9,239.4 721.4,239.5 721.8,239.3 722.3,239.3 722.8,239.1 723.3,239.3 723.8,239.2 724.3,239.2 724.8,239.5 725.3,239.6 725.8,239.4 726.3,239.7 726.8,239.6 727.3,239.7 727.7,239.7 728.2,239.7 728.7,239.7 729.2,239.4 729.7,239.5 730.2,239.4 730.7,239.5 731.2,239.1 731.7,239.3 732.2,239.4 732.7,239.3 733.2,239.4 733.6,239.6 734.1,239.6 734.6,239.3 735.1,239.7 735.6,239.6 736.1,239.5 736.6,239.6 737.1,239.4 737.6,239.5 738.1,239.1 738.6,239.3 739.1,239.4 739.5,239.3 740.0,239.3 740.5,239.3 741.0,239.3 741.5,239.5 742.0,239.9 742.5,239.8 743.0,239.5 743.5,239.4 744.0,239.1 744.5,239.0 744.9,239.3 745.4,239.3 745.9,239.4 746.4,239.5 746.9,239.4 747.4,239.6 747.9,239.5 748.4,239.4 748.9,239.3 749.4,239.5 749.9,239.2 750.4,239.3 750.8,239.6 751.3,239.5 751.8,239.6 752.3,239.7 752.8,239.4 753.3,239.6 753.8,239.5 754.3,239.4 754.8,239.6 755.3,239.6 755.8,239.5 756.3,239.6 756.7,239.3 757.2,239.0 757.7,238.5 758.2,237.4 758.6,237.2 758.7,237.5 759.2,238.4 759.7,239.5 760.2,239.5 760.7,239.6 761.2,239.4 761.7,239.3 762.2,239.7 762.6,239.6 763.1,239.6 763.6,239.7 764.1,239.6 764.6,239.7 765.1,239.4 765.6,239.5 766.1,239.4 766.6,239.2 767.1,239.4 767.6,239.4 768.0,239.5 768.5,239.8 769.0,239.7 769.5,239.7 770.0,239.6 770.5,239.7 771.0,239.4 771.5,239.0 772.0,239.2 772.5,239.3 773.0,239.4 773.5,239.6 773.9,239.7 774.4,239.6 774.9,239.4 775.4,239.6 775.9,239.5 776.4,239.4 776.9,239.3 777.4,239.4 777.9,239.5 778.4,239.8 778.9,239.9 779.4,239.7 779.8,239.8 780.3,239.7 780.8,239.7 781.3,239.5 781.8,239.5 782.3,239.3 782.8,239.4 783.3,239.7 783.8,239.6 784.3,239.6 784.8,239.4 785.3,239.2 785.7,239.5 786.2,239.6 786.7,239.7 787.2,239.8 787.7,239.7 788.2,239.8 788.7,239.9 789.2,239.6 789.7,239.9 790.2,239.7 790.7,239.6 791.2,239.7 791.6,239.7 792.1,239.4 792.6,239.8 793.1,239.6 793.6,239.3 794.1,238.4 794.6,235.3 794.9,234.0 795.1,234.5 795.6,237.8 796.1,239.2 796.6,239.1 797.0,239.3 797.5,239.2 798.0,238.0 798.5,235.3 799.0,232.3 799.5,235.0 800.0,238.0 800.5,238.1 801.0,236.9 801.5,235.3 802.0,237.2 802.5,239.0 802.9,239.5 803.4,239.6 803.9,239.6 804.4,239.5 804.9,239.7 805.4,239.6 805.9,239.6 806.4,239.6 806.9,239.8 807.4,240.0 807.9,240.2 808.4,240.0 808.8,240.0 809.3,239.8 809.8,239.7 810.3,239.8 810.8,239.7 811.3,239.7 811.8,239.2 812.3,239.4 812.8,239.3 813.3,239.6 813.8,239.8 814.3,239.8 814.7,239.8 815.2,239.7 815.7,239.6 816.2,239.8 816.7,240.0 817.2,239.7 817.7,239.8 818.2,239.7 818.7,239.8 819.2,239.9 819.7,239.9 820.1,239.9 820.6,240.1 821.1,240.1 821.6,240.1 822.1,240.0 822.6,239.8 823.1,239.5 823.6,239.9 824.1,239.9 824.6,240.0 825.1,240.0 825.6,239.7 826.0,239.8 826.5,239.7 827.0,239.7 827.5,240.0 828.0,240.0 828.5,239.9 829.0,240.0 829.5,240.0 830.0,239.9 830.5,239.9 831.0,239.9 831.5,239.8 831.9,239.8 832.4,239.7 832.9,239.8 833.4,239.5 833.9,239.7 834.4,239.9 834.9,239.8 835.4,239.9 835.9,240.0 836.4,239.8 836.9,240.0 837.4,240.0 837.8,240.0 838.3,239.9 838.8,239.7 839.3,239.5 839.8,239.4 840.3,239.5 840.8,239.8 841.3,239.8 841.8,239.7 842.3,240.2 842.8,239.8 843.2,239.8 843.7,239.8 844.2,239.3 844.7,239.4 845.2,239.2 845.7,239.4 846.2,239.6 846.7,239.6 847.2,239.6 847.7,239.7 848.2,239.7 848.7,239.7 849.1,239.8 849.6,239.6 850.1,239.6 850.6,238.7 851.1,238.4 851.2,238.3 851.6,238.3 852.1,239.1 852.6,239.2 853.1,239.7 853.6,239.9 854.1,239.9 854.6,240.1 855.0,240.3 855.5,240.2 856.0,240.0 856.5,240.1 857.0,239.7 857.5,239.6 858.0,239.7 858.5,239.8 859.0,240.0 859.5,240.0 860.0,239.8 860.5,239.9 860.9,239.6 861.4,239.6 861.9,239.8 862.4,239.7 862.9,240.0 863.4,239.8 863.9,239.8 864.4,239.6 864.9,239.8 865.4,239.8 865.9,239.9 866.4,240.0 866.8,240.0 867.3,240.0 867.8,240.1 868.3,239.9 868.8,239.8 869.3,240.0 869.8,240.0 870.3,240.1 870.8,240.1 871.3,239.7 871.8,239.3 872.2,238.7 872.7,237.7 873.2,238.7 873.7,239.8 874.2,240.0 874.7,240.2 875.2,240.1 875.7,240.1 876.2,240.3 876.7,240.3 877.2,240.1 877.7,240.2 878.1,240.2 878.6,240.1 879.1,240.3 879.6,240.2 880.1,240.0 880.6,240.3 881.1,240.2 881.6,240.1 882.1,240.4 882.6,240.1 883.1,239.9 883.6,239.8 884.0,240.0 884.5,239.9 885.0,239.6 885.5,239.8 886.0,239.5 886.5,239.3 887.0,239.6 887.5,239.6 888.0,240.0 888.5,240.0 889.0,239.6 889.5,239.9 889.9,240.1 890.4,239.7 890.9,240.1 891.4,239.9 891.9,239.5 892.4,239.4 892.9,238.9 893.4,239.3 893.9,239.7 894.4,239.6 894.9,239.8 895.3,239.8 895.8,239.7 896.3,239.9 896.8,239.7 897.3,239.5 897.8,239.7 898.3,239.7 898.8,239.5 899.3,239.8 899.8,239.5 900.3,239.4 900.8,240.0 901.2,239.9 901.7,240.4 902.2,240.4 902.7,240.0 903.2,240.2 903.7,240.0 904.2,240.2 904.7,239.9 905.2,240.4 905.7,240.2 906.2,240.2 906.7,240.3 907.1,240.0 907.6,240.3 908.1,240.0 908.6,240.1 909.1,240.1 909.6,239.7 910.1,239.9 910.6,239.9 911.1,239.7 911.6,239.8 912.1,239.6 912.6,239.6 913.0,239.4 913.5,239.4 914.0,239.6 914.5,239.8 915.0,240.4 915.5,240.2"/>
<path d="M227.4 16.5 V867.0 M214.9 852.5 H915.5 M214.9 776.5 H227.4 M214.9 700.5 H227.4 M214.9 624.5 H227.4 M214.9 548.5 H227.4 M214.9 472.5 H227.4 M214.9 396.5 H227.4 M214.9 320.5 H227.4 M214.9 244.5 H227.4 M214.9 168.5 H227.4 M214.9 92.5 H227.4 M214.9 16.5 H227.4 M325.7 852.5 V867.0 M424.0 852.5 V867.0 M522.3 852.5 V867.0 M620.6 852.5 V867.0 M718.9 852.5 V867.0 M817.2 852.5 V867.0 M915.5 852.5 V867.0" fill="none" stroke="#111" stroke-width="1.3"/>
<text transform="translate(207.5 860.5) scale(1 1.075)" text-anchor="end" style="font-size:30.3px">0</text>
<text transform="translate(208.4 785.4) scale(1 1.075)" text-anchor="end" style="font-size:30.3px">50 000</text>
<text transform="translate(208.4 712.2) scale(1 1.075)" text-anchor="end" style="font-size:30.3px">100 000</text>
<text transform="translate(208.4 632.8) scale(1 1.075)" text-anchor="end" style="font-size:30.3px">150 000</text>
<text transform="translate(208.4 560.0) scale(1 1.075)" text-anchor="end" style="font-size:30.3px">200 000</text>
<text transform="translate(208.4 481.1) scale(1 1.075)" text-anchor="end" style="font-size:30.3px">250 000</text>
<text transform="translate(208.4 407.7) scale(1 1.075)" text-anchor="end" style="font-size:30.3px">300 000</text>
<text transform="translate(208.4 329.7) scale(1 1.075)" text-anchor="end" style="font-size:30.3px">350 000</text>
<text transform="translate(208.4 256.5) scale(1 1.075)" text-anchor="end" style="font-size:30.3px">400 000</text>
<text transform="translate(208.4 177.9) scale(1 1.075)" text-anchor="end" style="font-size:30.3px">450 000</text>
<text transform="translate(208.4 104.0) scale(1 1.075)" text-anchor="end" style="font-size:30.3px">500 000</text>
<text transform="translate(208.4 25.0) scale(1 1.075)" text-anchor="end" style="font-size:30.3px">550 000</text>
<text transform="translate(228.0 897.5) scale(1 1.075)" text-anchor="middle" style="font-size:30.3px">10</text>
<text transform="translate(326.3 897.5) scale(1 1.075)" text-anchor="middle" style="font-size:30.3px">20</text>
<text transform="translate(424.6 897.5) scale(1 1.075)" text-anchor="middle" style="font-size:30.3px">30</text>
<text transform="translate(522.9 897.5) scale(1 1.075)" text-anchor="middle" style="font-size:30.3px">40</text>
<text transform="translate(621.2 897.5) scale(1 1.075)" text-anchor="middle" style="font-size:30.3px">50</text>
<text transform="translate(719.5 897.5) scale(1 1.075)" text-anchor="middle" style="font-size:30.3px">60</text>
<text transform="translate(817.8 897.5) scale(1 1.075)" text-anchor="middle" style="font-size:30.3px">70</text>
<text transform="translate(916.1 897.5) scale(1 1.075)" text-anchor="middle" style="font-size:30.3px">80</text>
<text x="570.5" y="928.9" text-anchor="middle" style="font-size:30.6px">2<tspan font-style="italic">θ</tspan>/(°)</text>
<text transform="translate(93.8,438) rotate(-90)" text-anchor="middle"><tspan class="cj">强度</tspan>(<tspan class="cj">计数</tspan>)</text>
<text x="552.3" y="37.2"><tspan class="la" x="552.3" dy="-0.0">1.</tspan><tspan class="cj" x="574.7" dy="0.8">二氧化硅</tspan></text>
<text x="552.3" y="73.5"><tspan class="la" x="552.3" dy="-0.0">2.</tspan><tspan class="cj" x="574.7" dy="0.8">矿物</tspan></text>
<text x="552.3" y="109.8"><tspan class="la" x="552.3" dy="-0.0">3.</tspan><tspan class="cj" x="574.7" dy="0.8">丁二酮肟</tspan></text>
<text x="552.0" y="146.1"><tspan class="la" x="552.0" dy="-0.0">4.</tspan><tspan class="cj" x="574.4" dy="0.8">钙沸石</tspan></text>
<text x="758.5" y="172.7"><tspan class="cj" x="758.1" dy="0.8">无</tspan><tspan class="la" x="788.6" dy="-0.8">HV+CMC</tspan></text>
<text x="550.8" y="279.8"><tspan class="la" x="550.8" dy="-0.0">1.</tspan><tspan class="cj" x="573.2" dy="0.8">高分子化合物</tspan></text>
<text x="550.5" y="315.9"><tspan class="la" x="550.5" dy="-0.0">2.</tspan><tspan class="cj" x="572.9" dy="0.8">石英</tspan></text>
<text x="550.5" y="352.2"><tspan class="la" x="550.5" dy="-0.0">3.</tspan><tspan class="cj" x="572.9" dy="0.8">钠长石</tspan></text>
<text x="550.5" y="388.5"><tspan class="la" x="550.5" dy="-0.0">4.</tspan><tspan class="cj" x="572.9" dy="0.8">磷酸盐类矿物</tspan></text>
<text transform="translate(752.4 428.3) scale(1 1.020)" style="font-size:30.4px">HV+CMC2%</text>
<text transform="translate(747.5 599.6) scale(1 1.020)" style="font-size:30.4px">HV+CMC1%</text>
<text x="550.5" y="672.2"><tspan class="la" x="550.5" dy="-0.0">1.</tspan><tspan class="cj" x="572.9" dy="0.8">石英</tspan></text>
<text x="550.3" y="708.3"><tspan class="la" x="550.3" dy="-0.0">2.</tspan><tspan class="cj" x="572.7" dy="0.8">钙长石</tspan></text>
<text x="550.3" y="744.3"><tspan class="la" x="550.3" dy="-0.0">3.</tspan><tspan class="cj" x="572.7" dy="0.8">钙沸石</tspan></text>
<text x="686.0" y="668.5"><tspan class="la" x="686.0" dy="-0.0">4.</tspan><tspan class="cj" x="708.4" dy="0.8">钠长石</tspan></text>
<text x="686.0" y="704.7"><tspan class="la" x="686.0" dy="-0.0">5.</tspan><tspan class="cj" x="708.4" dy="0.8">丁二酮肟</tspan></text>
<text x="686.0" y="741.3"><tspan class="la" x="686.0" dy="-0.0">6.</tspan><tspan class="cj" x="708.4" dy="0.8">硫化硅</tspan></text>
<text x="838.0" y="835.1"><tspan class="cj" x="837.6" dy="0.8">素土</tspan></text>
<text x="396.8" y="44.9" style="font-size:30.7px">1</text>
<text x="328.3" y="188.3" style="font-size:30.7px">1</text>
<text x="402.8" y="204.9" style="font-size:30.7px">2</text>
<text x="435.8" y="218.9" style="font-size:30.7px">2</text>
<text x="479.7" y="215.3" style="font-size:30.7px">1</text>
<text x="508.3" y="210.8" style="font-size:30.7px">1</text>
<text x="541.6" y="211.8" style="font-size:30.7px">3</text>
<text x="616.3" y="211.2" style="font-size:30.7px">4</text>
<text x="710.1" y="220.7" style="font-size:30.7px">1</text>
<text x="792.5" y="222.7" style="font-size:30.7px">1</text>
<text x="393.3" y="264.9" style="font-size:30.7px">1</text>
<text x="326.6" y="387.4" style="font-size:30.7px">2</text>
<text x="344.6" y="420.7" style="font-size:30.7px">3</text>
<text x="407.3" y="420.7" style="font-size:30.7px">3</text>
<text x="433.3" y="422.3" style="font-size:30.7px">4</text>
<text x="479.3" y="412.5" style="font-size:30.7px">3</text>
<text x="522.3" y="420.5" style="font-size:30.7px">2</text>
<text x="396.1" y="642.8" style="font-size:30.7px">1</text>
<text x="333.8" y="796.4" style="font-size:30.7px">1</text>
<text x="251.7" y="833.7" style="font-size:30.7px">2</text>
<text x="315.3" y="832.9" style="font-size:30.7px">3</text>
<text x="342.3" y="825.5" style="font-size:30.7px">2</text>
<text x="354.8" y="834.4" style="font-size:30.7px">4</text>
<text x="370.3" y="834.6" style="font-size:30.7px">2</text>
<text x="406.3" y="820.0" style="font-size:30.7px">4</text>
<text x="483.3" y="823.0" style="font-size:30.7px">4</text>
<text x="509.6" y="830.4" style="font-size:30.7px">1</text>
<text x="525.6" y="831.9" style="font-size:30.7px">1</text>
<text x="547.3" y="833.1" style="font-size:30.7px">5</text>
<text x="576.4" y="834.0" style="font-size:30.7px">1</text>
<text x="615.8" y="819.2" style="font-size:30.7px">1</text>
<text x="663.5" y="832.4" style="font-size:30.7px">1</text>
<text x="720.3" y="830.8" style="font-size:30.7px">3</text>
<text x="793.3" y="834.5" style="font-size:30.7px">1</text>
</svg></body></html>
